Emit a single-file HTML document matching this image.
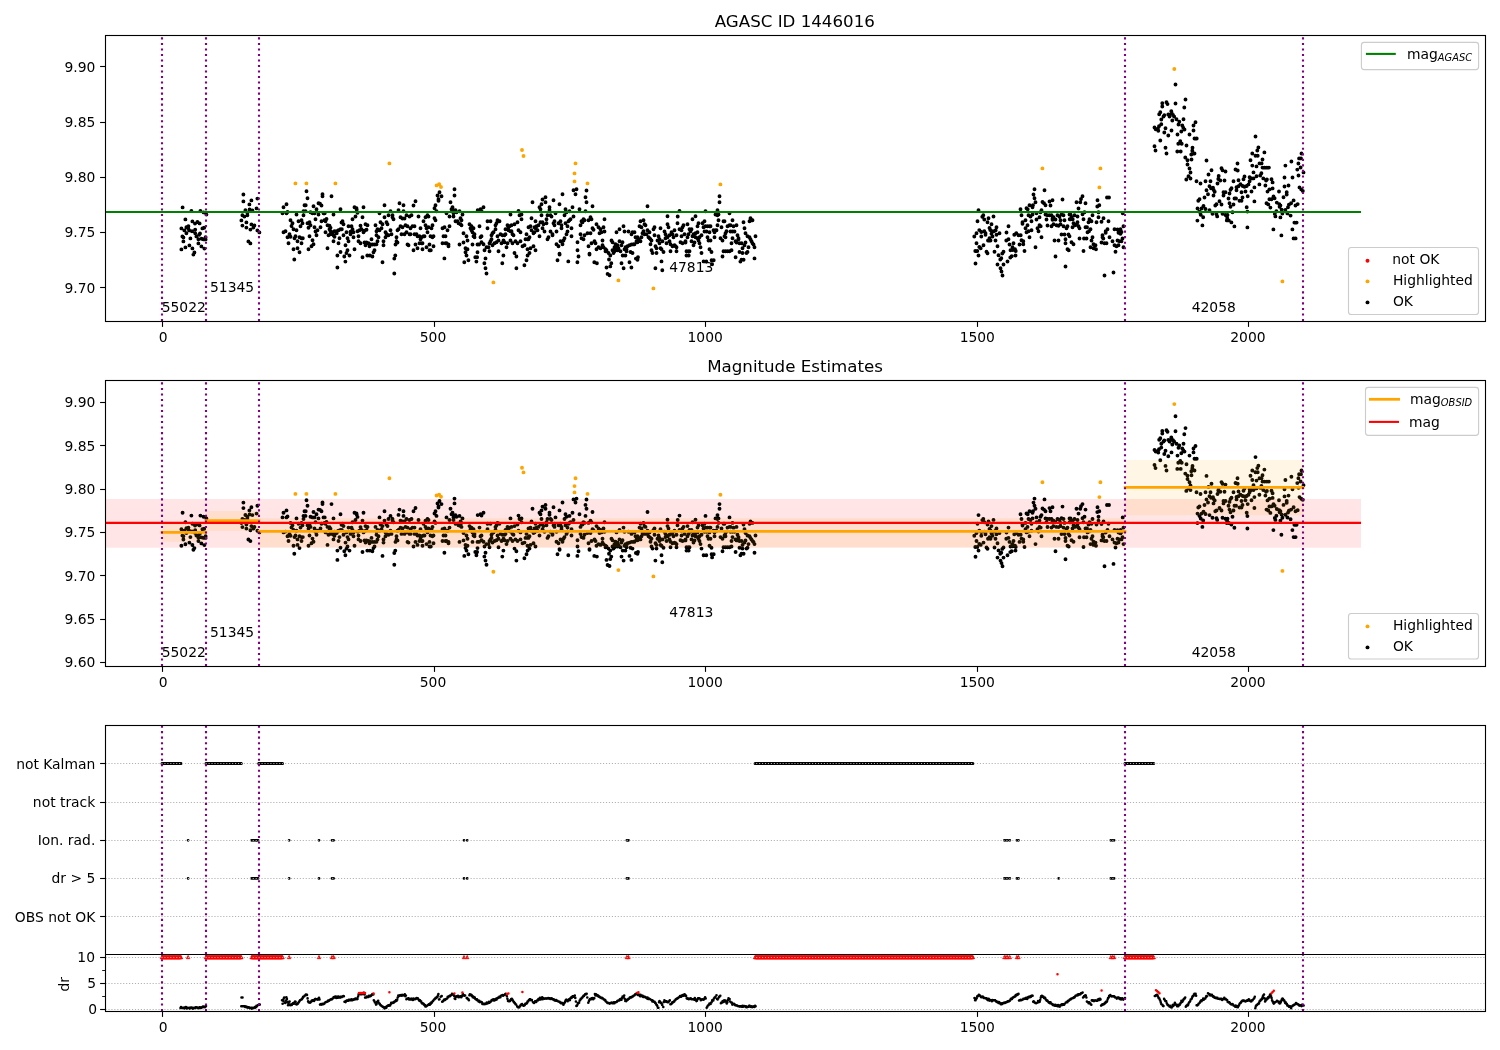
<!DOCTYPE html>
<html><head><meta charset="utf-8"><title>AGASC ID 1446016</title>
<style>html,body{margin:0;padding:0;background:#fff}svg{display:block}text{font-family:"DejaVu Sans", "Liberation Sans", sans-serif;fill:#000}</style></head><body>
<svg width="1500" height="1050" viewBox="0 0 1500 1050">
<rect width="1500" height="1050" fill="#fff"/>
<g>
<path d="M182.6 207.4h0M191.4 211h0M200.4 211h0M203.6 212.4h0M206.4 214.6h0M185.4 219.4h0M192.4 221.4h0M195 223.6h0M197.4 222h0M199.6 223.4h0M204.2 227.7h0M202.4 228.4h0M181.4 228.4h0M186.4 227.2h0M188.4 226.2h0M184.4 230.4h0M186.4 233.2h0M188.4 228.8h0M189.2 230.4h0M192 231.2h0M195.2 229.6h0M195.2 233.2h0M200 233.4h0M199.2 234.8h0M196.4 236.4h0M182.4 236.4h0M183.4 237.4h0M190.4 238.4h0M183.4 241.4h0M198.4 239.2h0M201.6 238.8h0M203.6 239.4h0M205.6 239.4h0M205.6 237.2h0M198.4 243.4h0M189.4 245.4h0M185.4 247.4h0M181.4 249.4h0M192.4 248.4h0M201.4 246.4h0M204.4 248.6h0M194.4 252.4h0M193.4 254.6h0M243.4 194.5h0M243.4 201.4h0M251.4 200.4h0M257.4 198.6h0M249.4 204.4h0M256.6 208.4h0M245.4 210.2h0M249.6 209.4h0M252.4 210.4h0M247.4 212.8h0M242.4 215.2h0M244.4 216.6h0M247.4 215.2h0M241.4 220.4h0M246.4 222.4h0M251.4 224.4h0M254.4 225.4h0M242.4 225.6h0M253.4 227.6h0M246.4 227.6h0M250.4 229.6h0M257.4 230.4h0M259.4 232.4h0M248.4 241.4h0M250.4 243.4h0M306.5 191.3h0M307.5 198.3h0M322.5 194.3h0M322.5 196.3h0M331.5 196.3h0M286.5 204.3h0M283.5 207.3h0M304.5 205.3h0M305.7 205.3h0M313.5 206.3h0M318.5 203.3h0M320 203.7h0M321.5 205.5h0M316.5 209.3h0M340.5 209.3h0M354.5 207.3h0M356.5 208.3h0M356.7 209.7h0M363.5 207.3h0M357.5 212.7h0M282.5 213.3h0M286.5 213.3h0M287.5 212h0M296.5 214.5h0M303.5 215.3h0M303.5 211.3h0M305.5 211.3h0M310.5 212.3h0M312.5 213.3h0M314.5 213.3h0M318.5 214.5h0M323.5 213.3h0M324.7 213.3h0M333.5 214.5h0M355.5 216.5h0M352.5 219.3h0M362.5 217.3h0M290.5 220.3h0M292.5 223.3h0M291.5 226h0M298.5 221.3h0M301.5 220.3h0M302.5 223.3h0M300.5 226.3h0M307.5 223.3h0M309.5 222.3h0M310.5 225.3h0M308.5 227.7h0M315.5 219.3h0M321.5 221.3h0M324.5 220.3h0M326.5 219h0M325.5 221.3h0M314.5 227.3h0M320.5 227.3h0M327.5 225.3h0M329.5 225.7h0M330.5 227.7h0M342.5 221.3h0M341.5 222.5h0M343.5 224.3h0M293.5 229.3h0M296.5 230.3h0M283.5 232.3h0M285.5 231.3h0M289.5 234.3h0M287.5 237.3h0M290.5 236.7h0M295.5 236.3h0M294.5 238.3h0M299.5 237.3h0M301.5 238.3h0M302.8 238.3h0M297.5 241.3h0M288.5 243.3h0M301.5 243.3h0M309.5 236.3h0M316.5 235.3h0M315.5 231.5h0M317.5 230.3h0M325.5 232.3h0M312.5 240.3h0M313.5 244.3h0M311.5 246.3h0M308.5 249.3h0M293.5 249.3h0M297.5 248.3h0M299.5 252.3h0M327.5 248.3h0M329.5 229.3h0M330.5 231.3h0M328.5 235.3h0M330.5 234.3h0M332.5 232.3h0M334.5 231.3h0M336.5 231.3h0M336.7 233.3h0M333.5 235.3h0M334.5 236.7h0M338.5 230.3h0M340.5 229.3h0M341.8 229.3h0M333.5 241.3h0M339.5 238.3h0M338.5 243.3h0M343.5 235.3h0M346.5 232.3h0M347.5 238.3h0M348.5 241.3h0M345.5 245.3h0M347.5 250.3h0M340.5 252h0M346.5 253h0M348.5 226.3h0M351.5 226.3h0M352.5 229.3h0M350.5 231.7h0M353.5 232.3h0M350.5 234.3h0M353.5 237.3h0M354.5 249.3h0M357.5 231.3h0M359.5 230.3h0M360.5 225.7h0M361.5 229.3h0M358.5 236.3h0M358.5 241.3h0M360.5 243.3h0M363.5 232.3h0M364.5 230.7h0M366.5 229.7h0M365.5 224.3h0M367.5 225.3h0M375.5 225.3h0M376.5 231.3h0M377.5 229.3h0M371.5 239.3h0M364.5 242.5h0M366.5 242.5h0M365.5 245.3h0M368.5 243.3h0M370.5 244.5h0M369.5 246.3h0M372.5 244.5h0M374.5 244.5h0M376.5 244.3h0M377.5 241.3h0M376.5 235.3h0M374.5 250.3h0M373.5 252.3h0M384.5 205.3h0M399.5 203.3h0M403.5 205.3h0M415.5 201.3h0M413.5 205.5h0M439.5 192.3h0M437.5 195.5h0M441.5 196.3h0M438.5 199.3h0M438.5 200.7h0M435.5 205.3h0M434.5 208.3h0M436.5 211.3h0M454.5 189.3h0M454.5 195.5h0M450.5 202.3h0M452.5 207.3h0M451.5 209.3h0M453.5 210.3h0M455.5 210.3h0M459.5 211.3h0M477.7 210.3h0M379.5 213.3h0M390.5 211.3h0M398.5 210.1h0M403.5 211.3h0M388.5 215.3h0M392.5 215.3h0M384.5 217.3h0M392.5 217.3h0M393.5 219.3h0M400.5 217.3h0M402.5 218.5h0M404.5 218.5h0M406.5 215.3h0M409.5 216.5h0M411.5 215.3h0M418.5 216.5h0M427.5 215.3h0M428.5 216.5h0M425.5 217.3h0M423.5 221.3h0M434.5 218.3h0M435.5 220.3h0M446.5 213.3h0M449.5 216.5h0M453.5 213.3h0M453.5 216.5h0M456.5 212.3h0M462.5 214.5h0M460.5 218.3h0M461.5 220.3h0M380.5 222.3h0M382.5 224.3h0M386.5 222.3h0M387.5 224.3h0M381.5 228.3h0M379.5 230.3h0M390.5 230.3h0M385.5 232.3h0M388.5 235.3h0M391.5 234.3h0M386.5 234h0M385.5 237.3h0M378.5 237.3h0M383.5 241.3h0M383.5 245.3h0M396.5 237.3h0M396.5 241.3h0M397.5 242.5h0M395.5 244.5h0M400.5 226.3h0M402.5 227.3h0M405.5 225.3h0M407.5 226.3h0M397.5 230.3h0M398.5 229.3h0M410.5 228.3h0M412.5 226.3h0M414.5 226.3h0M420.5 228.3h0M401.5 234.3h0M404.5 234.3h0M406.5 232.3h0M409.5 234.3h0M410.5 234.3h0M414.5 234.3h0M416.5 234.3h0M417.5 236.3h0M419.5 236.3h0M421.5 237.3h0M423.5 236.3h0M424.5 236.3h0M420.5 239.3h0M427.5 232.3h0M425.5 225.3h0M426.5 228.3h0M428.5 227.3h0M431.5 228.3h0M432.5 225.3h0M430.5 236.3h0M432.5 237.3h0M433.5 236.3h0M419.5 243.3h0M421.5 243.3h0M422.5 243.3h0M415.5 244.5h0M407.5 244.5h0M408.5 245.3h0M417.5 248.3h0M413.5 250.3h0M422.5 249.3h0M426.5 247.3h0M429.5 244.5h0M433.5 246.3h0M429.5 250.3h0M430.8 250.3h0M442.5 228.3h0M444.5 227.3h0M447.5 230.3h0M449.5 226.3h0M443.5 236.3h0M445.5 236.3h0M442.5 243.3h0M445.5 243.3h0M446.5 243.3h0M448.5 244.5h0M448.5 246.3h0M455.5 221.3h0M457.5 221.3h0M458.5 223.3h0M460.5 224.3h0M461.5 225.3h0M469.5 224.3h0M471.5 226.3h0M470.5 228.3h0M473.5 228.3h0M471.5 230.3h0M472.5 232.3h0M474.5 234.3h0M473.5 236.3h0M474.5 237.3h0M463.5 233.3h0M466.5 236.3h0M467.5 240.5h0M463.5 242.5h0M459.5 244.5h0M472.5 244.5h0M477.5 244.5h0M465.5 248.3h0M467.5 249.3h0M465.5 252.3h0M477.5 252.3h0M483.5 207.3h0M480.5 209.3h0M481.5 211h0M510.5 214.5h0M518.5 211h0M519.5 215.3h0M521.5 214.5h0M521.5 219.3h0M532.5 202.3h0M545.5 197.3h0M542.5 199.5h0M545.5 202.3h0M541.5 204.3h0M539.5 207.3h0M540.5 209.3h0M549.5 207.3h0M549.5 210h0M553.5 200.3h0M562.5 194.3h0M559.5 204.3h0M573.5 190.3h0M576.5 189.3h0M575.5 194.3h0M572.5 207.3h0M565.5 209.3h0M569.5 211.3h0M541.5 215.3h0M547.5 215.3h0M550.5 215.3h0M551.5 216.5h0M555.5 213.3h0M564.5 215.3h0M566.5 212.3h0M573.5 216.5h0M531.5 218.3h0M535.5 221.3h0M546.5 219.3h0M479.5 226.3h0M487.5 221.3h0M490.5 221.3h0M487.5 228.3h0M497.5 220.3h0M499.5 221.3h0M496.5 223.3h0M495.5 225.3h0M495.5 229.3h0M493.5 232.3h0M492.5 233.3h0M491.5 235.3h0M481.5 236.3h0M480.5 237.3h0M491.5 239.3h0M490.5 241.3h0M489.5 243.3h0M481.5 242.3h0M483.5 244.3h0M479 244.5h0M486.5 247.3h0M488.5 247.3h0M484.5 250.3h0M489.5 251.3h0M492.5 245.3h0M494.5 243.3h0M496.5 242.3h0M498.5 240.5h0M497.5 236.3h0M500.5 234.3h0M502.5 235.3h0M504.5 235.3h0M505.5 234.3h0M503.5 240.5h0M501.5 243.3h0M504.5 242.3h0M507.5 243.3h0M506.5 247.3h0M498.5 251.3h0M505.5 229.3h0M507.5 225.3h0M508.5 227.3h0M509.5 226.3h0M511.5 225.3h0M514.5 224.3h0M517.5 222.3h0M508.5 230.3h0M510.5 231.3h0M511.5 231.3h0M512.5 234.3h0M513.5 235.3h0M518.5 230.3h0M520.5 232.3h0M510.5 240.5h0M512.5 243.3h0M515.5 241.3h0M517.5 243.3h0M520.5 241.3h0M514.5 253h0M526.5 234.3h0M529.5 237.3h0M525.5 239.3h0M527.5 239.3h0M528.5 239.3h0M522.5 246.3h0M524.5 245.3h0M527.5 249.3h0M530.5 248.3h0M533.5 246.3h0M535.5 250.3h0M529.5 253h0M528.5 227.3h0M530.5 226.3h0M531.5 230.3h0M533.5 233.3h0M534.5 232.3h0M534.5 227.3h0M536.5 226.3h0M538.5 225.3h0M537.5 230.3h0M535.5 228.3h0M540.5 222.3h0M542.5 222.3h0M543.5 224.3h0M546.5 223.3h0M542.5 228.3h0M544.5 231.5h0M539.5 236.3h0M550.5 231.5h0M552.5 234.3h0M552.5 235.3h0M548.5 237.3h0M547.5 239.3h0M554.5 221.3h0M553.5 223.3h0M554.5 225.3h0M558.5 223.3h0M560.5 221.3h0M561.5 225.3h0M561.5 228.3h0M556.5 231.5h0M565.5 223.3h0M567.5 226.3h0M568.5 221.3h0M569.5 220.3h0M570.5 219.3h0M571.5 228.3h0M567.5 231.5h0M566.5 234.3h0M571.5 236.3h0M564.5 238.3h0M563.5 240.5h0M560.5 241.3h0M562.5 244.3h0M556.5 244.3h0M558.5 246.3h0M559.5 253.7h0M577.5 242.3h0M577.5 250.3h0M586.5 190.5h0M585.5 197.3h0M586.5 202.3h0M592.5 206.3h0M579.5 209.3h0M585.5 211.3h0M647.5 206.3h0M667.5 216.3h0M677.7 216.5h0M590.5 217.3h0M591.5 219.3h0M588.5 220.3h0M583.5 219.3h0M584.5 220.3h0M581.5 221.3h0M582.5 222.3h0M580.5 225.3h0M604.5 219.3h0M596.5 224.3h0M598.5 227.3h0M600.5 229.3h0M603.5 227.3h0M604.5 231.5h0M601.5 232.3h0M599.5 233.3h0M592.5 228.3h0M593.5 229.7h0M587.5 233.3h0M590.5 233.3h0M584.5 235.3h0M580.5 234.3h0M581.5 238.3h0M583.5 239.3h0M623.5 226.3h0M619.5 229.3h0M616.5 232.3h0M624.5 231.5h0M628.5 231.5h0M632.5 232.3h0M634.5 232.3h0M631.5 234.3h0M640.5 221.3h0M643.5 220.3h0M644.5 224.3h0M645.5 225.3h0M639.5 226.3h0M641.5 227.3h0M643.5 231.3h0M642.5 233.3h0M644.5 234.3h0M646.5 234.3h0M647.5 230.3h0M649.5 232.3h0M648.5 237.3h0M649.5 238.3h0M650.5 239.3h0M651.5 240.5h0M635.5 237.3h0M637.5 237.3h0M641.5 237.3h0M638.5 239.3h0M636.5 241.3h0M640.5 241.3h0M637.5 242.3h0M633.5 244.3h0M634.5 244.3h0M650.5 244.3h0M654.5 227.3h0M653.5 229.3h0M660.5 228.3h0M654.5 235.3h0M658.5 236.3h0M659.5 239.3h0M657.5 240.5h0M662.5 241.3h0M659.5 243.3h0M655.5 246.3h0M656.5 248.3h0M660.5 248.3h0M661.5 249.3h0M651.5 250.3h0M652.5 253h0M656.5 253h0M663.5 252h0M667.5 224.3h0M668.5 227.3h0M664.5 231.5h0M665.5 234.3h0M665.5 238.3h0M667.5 237.3h0M669.5 235.3h0M671.5 232.3h0M672.5 234.3h0M674.5 230.3h0M673.5 237.3h0M676.5 235.3h0M677.5 223.3h0M669.5 241.3h0M666.5 243.3h0M670.5 244.3h0M672.5 246.3h0M674.5 245.3h0M675.5 246.3h0M676.5 247.3h0M670.5 251.3h0M676.5 251.3h0M594.5 241.3h0M595.5 243.3h0M591.5 243.3h0M588.5 246.3h0M602.5 240.5h0M602.5 245.3h0M603.5 247.3h0M598.5 247.3h0M600.5 248.3h0M596.5 249.3h0M605.5 249.3h0M606.5 250.3h0M605.5 251.3h0M608.5 253h0M589.5 253.7h0M611.5 240.5h0M612.5 242.3h0M619.5 241.3h0M622.5 242.3h0M615.5 244.3h0M617.5 245.3h0M621.5 245.3h0M614.5 247.3h0M616.5 248.3h0M618.5 248.3h0M612.5 250.3h0M614.5 251.3h0M617.5 250.3h0M620.5 251.3h0M613.5 253h0M625.5 247.3h0M627.5 246.3h0M629.5 245.3h0M631.5 244.5h0M624.5 249.3h0M626.5 249.3h0M626.5 251.3h0M630.5 252h0M632.5 253h0M679.5 211h0M705.5 211.3h0M717.5 210.3h0M719.5 196.3h0M719.5 202.3h0M715.5 214.5h0M717.5 215.3h0M718.5 214.5h0M729.5 213.3h0M695.5 216.3h0M692.5 219.3h0M704.5 221.3h0M702.5 223.3h0M698.5 223.3h0M697.5 226.3h0M687.5 224.3h0M683.5 225.3h0M682.5 227.3h0M679.5 229.3h0M681.5 230.3h0M718.5 220.3h0M723.5 221.3h0M724.5 221.3h0M732.5 220.3h0M717.5 225.3h0M721.5 227.3h0M727.5 226.3h0M729.5 225.3h0M730.5 225.3h0M733.5 226.3h0M736.5 225.3h0M743.5 222.3h0M750.5 218.3h0M751.5 220.3h0M749.5 221.3h0M752.5 220.3h0M744.5 228.3h0M745.5 233.3h0M703.5 227.3h0M705.5 226.3h0M707.5 226.3h0M709.5 226.3h0M710.5 226.3h0M704.5 231.5h0M706.5 231.5h0M709.5 232.3h0M689.5 229.3h0M691.5 229.3h0M690.5 231.3h0M697.5 232.3h0M695.5 233.3h0M693.5 234.3h0M692.5 236.3h0M684.5 234.3h0M688.5 234.3h0M681.5 236.3h0M687.5 237.3h0M695.5 237.3h0M697.5 238.3h0M699.5 237.3h0M701.5 235.3h0M698.5 240.5h0M699.5 243.3h0M691.5 241.3h0M694.5 242.5h0M693.5 245.3h0M685.5 241.3h0M685.5 242.5h0M680.5 242.3h0M682.5 243.3h0M700.5 247.3h0M686.5 251.3h0M688.5 251.3h0M689.5 251.3h0M701.5 253h0M713.5 230.3h0M715.5 230.3h0M716.5 230.3h0M714.5 232.3h0M707.5 237.3h0M714.5 237.3h0M708.5 240.5h0M710.5 240.5h0M720.5 238.3h0M722.5 240.5h0M726.5 231.3h0M725.5 233.3h0M724.5 236.3h0M725.5 237.3h0M730.5 231.5h0M732.5 231.5h0M734.5 231.5h0M732.5 238.3h0M731.5 243.3h0M737.5 235.3h0M738.5 238.3h0M738.5 239.3h0M735.5 241.3h0M736.5 242.5h0M739.5 243.3h0M741.5 243.3h0M745.5 242.5h0M744.5 245.3h0M742.5 248.3h0M748.5 247.3h0M747.5 236.3h0M749.5 237.3h0M750.5 239.3h0M751.5 241.3h0M752.5 243.3h0M753.5 244.5h0M754.5 247.3h0M755.5 236.3h0M709.5 249.3h0M711.5 252h0M723.5 251.3h0M725.5 251.3h0M727.5 251.3h0M729.5 251.3h0M731.5 250.3h0M739.5 252h0M742.5 253h0M746.5 253h0M747.5 252h0M294.3 259.5h0M337.4 255.5h0M344.3 256.5h0M349.5 255.5h0M345.4 261.6h0M337.4 267.5h0M362.5 257.3h0M367.3 255.5h0M369.9 255.5h0M372.4 256.5h0M382.5 262.3h0M395.3 255.5h0M394.3 258.6h0M394.3 273.5h0M444.4 258.4h0M466.5 255.5h0M468.4 260.3h0M464.3 262.3h0M475.3 257.3h0M477.1 257.3h0M476.4 261.6h0M485.5 258.4h0M484.4 263.2h0M485.5 268.3h0M486.5 273.5h0M503.4 255.5h0M502.3 263.2h0M516.4 256.5h0M516.4 268.3h0M527.6 255.5h0M526.5 260.3h0M524.4 265.3h0M559.6 254.5h0M557.5 260.3h0M568.3 261.4h0M578.5 256.5h0M577.4 262.3h0M589.5 254.5h0M594.3 262.3h0M596.9 263.2h0M610.3 255.5h0M622.7 255.5h0M625.4 255.5h0M609 259.5h0M611.3 263.2h0M610.3 266.4h0M606.5 267.5h0M607.6 273.9h0M609.5 275.3h0M621.5 263.2h0M623.6 268.3h0M629.5 262.3h0M631.4 267.5h0M635.9 258.6h0M638 257.3h0M637.5 259.7h0M661.5 261.4h0M655.4 268.3h0M662.3 270.3h0M686.5 255.5h0M688.7 255.5h0M703.6 261.4h0M706.3 261.4h0M711.6 260.3h0M713.7 260.3h0M712.1 264.3h0M722.5 256.5h0M735.6 257.3h0M741.5 259.7h0M743.6 259.7h0M740.4 261.6h0M754.5 258.4h0M978.5 210.3h0M983.3 215.3h0M982.3 216.7h0M984.3 219.5h0M988.5 218.3h0M993.5 216.5h0M977.5 221.3h0M987.5 222.3h0M991.5 224.3h0M996.5 227.3h0M989.5 228h0M1008.5 226.3h0M979.3 230.1h0M981.3 232h0M984.3 231.3h0M985.5 233.3h0M976.5 233.3h0M974.3 236.5h0M981.3 236.5h0M985.5 234.7h0M990.3 230h0M992 231.3h0M994 231.3h0M995.7 230.3h0M991.5 233.7h0M992.5 236.5h0M996.5 234.7h0M999.5 233.3h0M1006.5 232.5h0M989.5 238.3h0M988 240.5h0M990.5 240.5h0M995.5 240.5h0M976.5 243.3h0M983.5 245.3h0M979.3 247h0M980.7 248.3h0M997.5 246.3h0M975.3 251h0M977.3 251h0M986.5 251.7h0M994.5 251.7h0M1003.5 251.7h0M1006.3 240.5h0M1008.5 239.3h0M1009.5 244.5h0M1013.5 243.3h0M1012.5 247.3h0M1010.5 250.3h0M1012.7 250h0M1015 249.3h0M1015.7 251h0M1014.3 234.7h0M1016.3 233.3h0M1018.5 235.3h0M1020.7 235.3h0M1021.5 240.3h0M1023.3 241.3h0M1023.3 244.3h0M1019.5 244.5h0M1024.5 251h0M1020.5 209.3h0M1021.5 215.3h0M1026.5 208.3h0M1027.7 209.3h0M1029.5 205.3h0M1033 205.3h0M1032.5 207.3h0M1035.5 202.3h0M1034.5 198.3h0M1033.5 194.5h0M1034.5 189.3h0M1044.5 190.3h0M1028.5 215.3h0M1030.5 216.5h0M1032.5 214.5h0M1036.5 213.3h0M1040.5 212.3h0M1041.5 210.3h0M1039.5 217.3h0M1036.5 219.5h0M1025.5 220.3h0M1022.5 222.3h0M1022.5 223.7h0M1031.5 221.3h0M1027.5 225.3h0M1025.5 228.3h0M1026.5 232.3h0M1028.5 231.3h0M1031.5 230.3h0M1029.5 237.3h0M1035.5 247.3h0M1041.5 237.3h0M1038.5 231.3h0M1037.5 228.3h0M1039.5 225.3h0M1040.7 226.3h0M1042.5 202h0M1044 203.3h0M1045.5 205.3h0M1049.5 201.5h0M1052.5 200.3h0M1050.5 205.5h0M1062.5 199.5h0M1045.5 214.5h0M1047.5 215.3h0M1049.5 215.3h0M1051.5 215.3h0M1046.5 219.5h0M1052.5 218.3h0M1053.5 217.3h0M1055.5 219.5h0M1052.5 219.7h0M1057.5 215.3h0M1059.5 216.7h0M1060.5 220.3h0M1061.5 214.3h0M1063.5 215.3h0M1064.5 220.3h0M1069.5 214.5h0M1069.7 219.3h0M1047.5 225.5h0M1051.5 226.3h0M1053.5 224.3h0M1056.5 225.3h0M1058.5 225.7h0M1060.5 224.3h0M1063.5 226.3h0M1066.5 228.3h0M1067.5 226.3h0M1061.5 234.5h0M1064.5 234.5h0M1068.5 234.5h0M1069.5 236.3h0M1054.5 240.5h0M1058.5 240.5h0M1065.5 239.3h0M1065.5 243.3h0M1067.5 249.3h0M1068.7 250.3h0M1082.5 196.3h0M1081 199h0M1080.3 202.3h0M1076.5 202.3h0M1085.5 203.3h0M1078.5 208.5h0M1097.5 200.3h0M1099.3 205.3h0M1097.3 206.5h0M1107 197.5h0M1109 197.5h0M1070.5 214.5h0M1074.5 215.3h0M1077.5 216.5h0M1082.5 214.3h0M1084.5 212.3h0M1092.5 215.3h0M1098.5 212.3h0M1098.5 217.3h0M1103.5 218.3h0M1101.5 221.7h0M1108.5 221.3h0M1096.5 222.3h0M1083.5 219.3h0M1089.5 219.3h0M1091.5 221.3h0M1088.5 222.3h0M1070.5 219.3h0M1072.7 219.3h0M1071.7 217.3h0M1077.5 222.3h0M1073.5 223.3h0M1075 225.3h0M1076.5 224.3h0M1072.5 227.3h0M1078.5 226.3h0M1079.5 228.3h0M1085.5 227.3h0M1087 227.3h0M1090.5 229.3h0M1089 231.3h0M1087.5 232.3h0M1107.5 229.3h0M1105.7 231.3h0M1105.7 232.7h0M1102.5 235.3h0M1114.5 229.3h0M1117.5 229.5h0M1120.5 229.3h0M1118.7 231.3h0M1121.5 232h0M1120.5 233.7h0M1118.5 232.7h0M1123.5 226.3h0M1122.7 213.3h0M1079.5 238.5h0M1084 238.5h0M1086.5 238.5h0M1092.5 237.3h0M1091.5 240.5h0M1102.5 237.3h0M1103.3 238.5h0M1109.5 237.3h0M1101.5 242.5h0M1104.5 243.3h0M1106.5 243.3h0M1112.5 241.3h0M1117.5 240.5h0M1119.5 241.3h0M1121.5 241.3h0M1122.5 238.5h0M1114.5 245.3h0M1116.5 246.3h0M1118.5 245.3h0M1123.5 247.3h0M1093.5 244.3h0M1095.5 245.3h0M1090.5 247.3h0M1093.5 248.3h0M1096 249.3h0M1071.5 242.3h0M1073.5 244.3h0M1083.5 251h0M1115.5 251.7h0M987.5 253.3h0M978.5 255.5h0M998.5 255.3h0M1002.3 253.5h0M1015.5 255.5h0M1011.7 256.3h0M1010.3 257.5h0M1001.3 258.3h0M1000.3 259.5h0M1007.5 261.5h0M975.5 263.5h0M997.5 264.5h0M1003.5 264.5h0M1000.5 268.3h0M1001.5 271.5h0M1002.5 275.5h0M1055.5 256.5h0M1065.5 266.5h0M1104.5 275.5h0M1113.5 272.5h0M1175.5 84.5h0M1185.5 99.5h0M1175.5 103.5h0M1162.3 103.2h0M1162.3 106.5h0M1166.5 102.3h0M1167.5 104.1h0M1184.3 107.5h0M1171.3 111.3h0M1160.3 112.3h0M1159.2 114.3h0M1164.3 115.3h0M1163.5 116.5h0M1168.3 114.5h0M1169.5 116.5h0M1171.7 113.3h0M1173 115h0M1174.1 116.5h0M1161.3 119.5h0M1172.3 120.5h0M1176.5 119.3h0M1183.5 119.3h0M1179.3 121.7h0M1178.5 124.5h0M1195.5 122.3h0M1193.5 125.5h0M1161.3 124.3h0M1159 126.3h0M1154.5 127.5h0M1155.7 129.3h0M1158 128.7h0M1158.3 130.7h0M1165.5 128.3h0M1171.5 130.5h0M1182.3 125.5h0M1183.3 127.7h0M1184.5 129.5h0M1181.3 131.5h0M1193.5 130.5h0M1164.3 132.5h0M1168.3 135.5h0M1177.5 134.5h0M1189.5 134.5h0M1194.5 138.5h0M1196.7 138.5h0M1160.3 140.5h0M1180.3 141.3h0M1178.3 143.7h0M1181.7 143.7h0M1186.5 145.5h0M1154.5 146.3h0M1165.5 147.7h0M1192.5 147.7h0M1155.5 150.5h0M1166.5 153.5h0M1177.3 151.5h0M1180.7 151.5h0M1192.3 150.7h0M1194.5 153.5h0M1191.3 154.5h0M1185.3 157.5h0M1187.5 160.3h0M1191.5 159.5h0M1206.5 160.5h0M1187.5 164.5h0M1189.5 168.5h0M1190.5 172.5h0M1188.5 176.3h0M1190.5 178.5h0M1186.3 179.5h0M1196.5 181.3h0M1200.5 183.5h0M1205.5 181.3h0M1210.5 181.3h0M1211.5 170.3h0M1208.5 174.5h0M1221.5 168.3h0M1222.5 170.3h0M1225.5 171.5h0M1237.5 163.5h0M1235.5 169.5h0M1237.7 170.5h0M1218.7 176h0M1218.3 179h0M1220.3 180.5h0M1224.5 180.5h0M1217.5 183.5h0M1233.5 181.3h0M1238.5 180.3h0M1243.5 179.3h0M1244.5 176.5h0M1209.5 186.3h0M1211 188.3h0M1213 187.7h0M1213.7 190h0M1214.7 191.7h0M1206.5 190.3h0M1208 194.3h0M1213.5 195.5h0M1204.5 197.5h0M1199.5 199.3h0M1198.3 200.7h0M1223.5 192.3h0M1225.5 192.3h0M1223.5 195.5h0M1229.5 193.5h0M1230.5 189.7h0M1231.5 188.3h0M1236.5 187.3h0M1236.5 190.3h0M1238.5 186.3h0M1240.5 184.3h0M1242.7 186h0M1244.5 186.7h0M1246.7 186h0M1241.5 192.3h0M1245.5 191.5h0M1228.5 198.5h0M1234.5 198.5h0M1236 198.5h0M1242.5 197.5h0M1239.5 200.7h0M1241.5 200.7h0M1219.5 201.3h0M1216.5 204.3h0M1215.3 205.5h0M1221.5 204.5h0M1229.5 203.3h0M1233.5 204.5h0M1230.5 206.7h0M1203.5 206h0M1197.5 208.5h0M1201.5 208.5h0M1205.5 209h0M1209.5 210.3h0M1199.5 211.7h0M1200.7 214.7h0M1212.5 213.7h0M1216.5 214.3h0M1222.5 213.7h0M1225.5 215h0M1227.5 215h0M1232.5 212.3h0M1246.7 207.3h0M1247.7 196.3h0M1203.2 217.2h0M1197.4 220.6h0M1202.4 225.4h0M1217.2 216.4h0M1227.2 218h0M1226.8 220.4h0M1228.8 220.4h0M1231.4 222.4h0M1234.4 226.4h0M1247.4 227.4h0M1247.4 211.6h0M1270.4 207.6h0M1279.6 206.8h0M1288 207.2h0M1281.6 209.6h0M1285.4 210h0M1276.4 211.2h0M1274.8 214h0M1275.4 216.4h0M1282.4 213.6h0M1280.4 217.4h0M1287.4 213.4h0M1290.6 215.6h0M1294.4 222.6h0M1296.6 222.6h0M1273.4 229.4h0M1292.4 229.4h0M1281.4 235.4h0M1293.6 238.4h0M1295.6 238.4h0M1255.5 136.5h0M1258.4 147.5h0M1257.3 150.5h0M1252.3 153.5h0M1255.5 155.7h0M1257.7 155.7h0M1264.4 152.4h0M1250.5 160.3h0M1262.5 159.5h0M1259.5 163.4h0M1261.6 163.4h0M1252.3 165.6h0M1256.5 166.4h0M1262.5 167.6h0M1264.7 167.6h0M1266.9 167.6h0M1268.9 167.6h0M1253.5 172.4h0M1261.4 173.3h0M1260.3 175.5h0M1256.5 176.3h0M1249.6 177.3h0M1251.5 178.4h0M1253.5 178.4h0M1249.6 181.3h0M1248.5 184.4h0M1263.3 178.4h0M1266.9 179.5h0M1266.1 180.6h0M1271.5 179.3h0M1272.6 182.4h0M1259.4 184.4h0M1254.4 187.4h0M1265.4 185.5h0M1272.6 188.4h0M1269.4 189.4h0M1267.5 191.6h0M1251.5 191.5h0M1254.4 201.4h0M1279 191.5h0M1284.5 186.5h0M1288.5 185.5h0M1286.7 192.3h0M1286.7 194.5h0M1283.5 197.3h0M1273.5 196.4h0M1274.6 198.3h0M1269.4 199.3h0M1271.5 199.3h0M1266.5 203.3h0M1268.3 204.4h0M1276.8 202.6h0M1279.3 204.1h0M1280.4 205.5h0M1293.6 200.4h0M1291.1 203.3h0M1288.9 204.8h0M1297.7 204.1h0M1295.5 205.5h0M1284.5 177.5h0M1292.5 177.5h0M1285.4 165.6h0M1291.4 161.5h0M1301.5 153.5h0M1299.1 158.4h0M1301 158.4h0M1298.4 163.5h0M1300.6 167.5h0M1297.3 169.6h0M1303.5 172.4h0M1298.5 175.5h0M1299.5 187.4h0M1301.3 189.4h0M1302.8 190.9h0" stroke="#000" stroke-width="3.9" stroke-linecap="round" fill="none" />
<path d="M295.4 183.4h0M306.4 183.4h0M335.4 183.4h0M389.4 163.4h0M436.6 185.4h0M439.2 184.2h0M441 187h0M493.4 282.4h0M522 150h0M523.5 156h0M575.5 163.4h0M574.5 173.4h0M574.5 181.4h0M587.5 183.4h0M618.4 280.4h0M653.4 288.4h0M720.4 184.4h0M1042.4 168.4h0M1100.4 168.4h0M1099.4 187.4h0M1174.3 69h0M1282.4 281.4h0" stroke="#ffa500" stroke-width="3.9" stroke-linecap="round" fill="none" />
<line x1="105.5" x2="1361" y1="212" y2="212" stroke="#008000" stroke-width="2.083" />
<line x1="162" x2="162" y1="321" y2="35.5" stroke="#800080" stroke-width="2.083" stroke-dasharray="2.083 3.4375"/>
<line x1="206" x2="206" y1="321" y2="35.5" stroke="#800080" stroke-width="2.083" stroke-dasharray="2.083 3.4375"/>
<line x1="259" x2="259" y1="321" y2="35.5" stroke="#800080" stroke-width="2.083" stroke-dasharray="2.083 3.4375"/>
<line x1="1125" x2="1125" y1="321" y2="35.5" stroke="#800080" stroke-width="2.083" stroke-dasharray="2.083 3.4375"/>
<line x1="1303" x2="1303" y1="321" y2="35.5" stroke="#800080" stroke-width="2.083" stroke-dasharray="2.083 3.4375"/>
<text x="183.8" y="312.3" font-size="13.889" text-anchor="middle" >55022</text>
<text x="232.1" y="292.3" font-size="13.889" text-anchor="middle" >51345</text>
<text x="691.3" y="272.3" font-size="13.889" text-anchor="middle" >47813</text>
<text x="1213.8" y="312.3" font-size="13.889" text-anchor="middle" >42058</text>
<rect x="105.5" y="35.5" width="1380" height="286" fill="none" stroke="#000" stroke-width="1.111"/>
<line x1="162.5" x2="162.5" y1="321.5" y2="326.9" stroke="#000" stroke-width="1.111"/>
<text x="163.2" y="341.9" font-size="13.889" text-anchor="middle" >0</text>
<line x1="434.5" x2="434.5" y1="321.5" y2="326.9" stroke="#000" stroke-width="1.111"/>
<text x="433" y="341.9" font-size="13.889" text-anchor="middle" >500</text>
<line x1="705.5" x2="705.5" y1="321.5" y2="326.9" stroke="#000" stroke-width="1.111"/>
<text x="705.2" y="341.9" font-size="13.889" text-anchor="middle" >1000</text>
<line x1="977.5" x2="977.5" y1="321.5" y2="326.9" stroke="#000" stroke-width="1.111"/>
<text x="977.3" y="341.9" font-size="13.889" text-anchor="middle" >1500</text>
<line x1="1248.5" x2="1248.5" y1="321.5" y2="326.9" stroke="#000" stroke-width="1.111"/>
<text x="1247.9" y="341.9" font-size="13.889" text-anchor="middle" >2000</text>
<line x1="100.1" x2="105.5" y1="66.5" y2="66.5" stroke="#000" stroke-width="1.111"/>
<text x="95.3" y="71.8" font-size="13.889" text-anchor="end" >9.90</text>
<line x1="100.1" x2="105.5" y1="122.5" y2="122.5" stroke="#000" stroke-width="1.111"/>
<text x="95.3" y="127" font-size="13.889" text-anchor="end" >9.85</text>
<line x1="100.1" x2="105.5" y1="177.5" y2="177.5" stroke="#000" stroke-width="1.111"/>
<text x="95.3" y="182.2" font-size="13.889" text-anchor="end" >9.80</text>
<line x1="100.1" x2="105.5" y1="232.5" y2="232.5" stroke="#000" stroke-width="1.111"/>
<text x="95.3" y="237.4" font-size="13.889" text-anchor="end" >9.75</text>
<line x1="100.1" x2="105.5" y1="287.5" y2="287.5" stroke="#000" stroke-width="1.111"/>
<text x="95.3" y="292.6" font-size="13.889" text-anchor="end" >9.70</text>
<text x="794.8" y="26.5" font-size="16.667" text-anchor="middle" >AGASC ID 1446016</text>
<rect x="1361.4" y="42.4" width="117.2" height="27.2" rx="2.8" fill="#fff" fill-opacity="0.8" stroke="#ccc" stroke-width="1.111"/>
<line x1="1365.9" x2="1395.8" y1="53.9" y2="53.9" stroke="#008000" stroke-width="2.083" />
<text x="1407" y="58.8" font-size="13.889">mag<tspan font-size="9.9" font-style="italic" dy="2.6">AGASC</tspan></text>
<rect x="1348.5" y="247.5" width="130" height="67" rx="2.8" fill="#fff" fill-opacity="0.8" stroke="#ccc" stroke-width="1.111"/>
<path d="M1367.5 260.7h0" stroke="#ff0000" stroke-width="3.9" stroke-linecap="round" fill="none" />
<path d="M1367.5 281.4h0" stroke="#ffa500" stroke-width="3.9" stroke-linecap="round" fill="none" />
<path d="M1367.5 302.4h0" stroke="#000" stroke-width="3.9" stroke-linecap="round" fill="none" />
<text x="1392.3" y="264" font-size="13.889" text-anchor="start" >not OK</text>
<text x="1392.9" y="285" font-size="13.889" text-anchor="start" >Highlighted</text>
<text x="1392.9" y="306" font-size="13.889" text-anchor="start" >OK</text>
</g>
<g>
<rect x="105.5" y="499" width="1255.5" height="48.7" fill="#ff0000" fill-opacity="0.1"/>
<path d="M182.6 512.8h0M191.4 515.6h0M200.4 515.6h0M203.6 516.7h0M206.4 518.4h0M185.4 522.2h0M192.4 523.7h0M195 525.5h0M197.4 524.2h0M199.6 525.4h0M204.2 528.7h0M202.4 529.3h0M181.4 529.3h0M186.4 528.3h0M188.4 527.6h0M184.4 530.8h0M186.4 533h0M188.4 529.6h0M189.2 530.8h0M192 531.5h0M195.2 530.2h0M195.2 533h0M200 533.2h0M199.2 534.3h0M196.4 535.6h0M182.4 535.6h0M183.4 536.3h0M190.4 537.1h0M183.4 539.5h0M198.4 537.7h0M201.6 537.4h0M203.6 537.9h0M205.6 537.9h0M205.6 536.2h0M198.4 541.1h0M189.4 542.6h0M185.4 544.2h0M181.4 545.8h0M192.4 545h0M201.4 543.4h0M204.4 545.1h0M194.4 548.1h0M193.4 549.8h0M243.4 502.6h0M243.4 508.1h0M251.4 507.3h0M257.4 505.8h0M249.4 510.4h0M256.6 513.6h0M245.4 515h0M249.6 514.4h0M252.4 515.1h0M247.4 517h0M242.4 518.9h0M244.4 520h0M247.4 518.9h0M241.4 523h0M246.4 524.6h0M251.4 526.1h0M254.4 526.9h0M242.4 527.1h0M253.4 528.6h0M246.4 528.6h0M250.4 530.2h0M257.4 530.8h0M259.4 532.4h0M248.4 539.5h0M250.4 541.1h0M306.5 500.2h0M307.5 505.7h0M322.5 502.5h0M322.5 504.1h0M331.5 504.1h0M286.5 510.4h0M283.5 512.7h0M304.5 511.2h0M305.7 511.2h0M313.5 512h0M318.5 509.6h0M320 509.9h0M321.5 511.3h0M316.5 514.3h0M340.5 514.3h0M354.5 512.7h0M356.5 513.5h0M356.7 514.6h0M363.5 512.7h0M357.5 516.9h0M282.5 517.4h0M286.5 517.4h0M287.5 516.4h0M296.5 518.4h0M303.5 519h0M303.5 515.9h0M305.5 515.9h0M310.5 516.7h0M312.5 517.4h0M314.5 517.4h0M318.5 518.4h0M323.5 517.4h0M324.7 517.4h0M333.5 518.4h0M355.5 520h0M352.5 522.2h0M362.5 520.6h0M290.5 522.9h0M292.5 525.3h0M291.5 527.4h0M298.5 523.7h0M301.5 522.9h0M302.5 525.3h0M300.5 527.6h0M307.5 525.3h0M309.5 524.5h0M310.5 526.9h0M308.5 528.7h0M315.5 522.2h0M321.5 523.7h0M324.5 522.9h0M326.5 521.9h0M325.5 523.7h0M314.5 528.4h0M320.5 528.4h0M327.5 526.9h0M329.5 527.1h0M330.5 528.7h0M342.5 523.7h0M341.5 524.7h0M343.5 526.1h0M293.5 530h0M296.5 530.8h0M283.5 532.4h0M285.5 531.6h0M289.5 533.9h0M287.5 536.3h0M290.5 535.8h0M295.5 535.5h0M294.5 537.1h0M299.5 536.3h0M301.5 537.1h0M302.8 537.1h0M297.5 539.4h0M288.5 541h0M301.5 541h0M309.5 535.5h0M316.5 534.7h0M315.5 531.7h0M317.5 530.8h0M325.5 532.4h0M312.5 538.6h0M313.5 541.8h0M311.5 543.3h0M308.5 545.7h0M293.5 545.7h0M297.5 544.9h0M299.5 548.1h0M327.5 544.9h0M329.5 530h0M330.5 531.6h0M328.5 534.7h0M330.5 533.9h0M332.5 532.4h0M334.5 531.6h0M336.5 531.6h0M336.7 533.1h0M333.5 534.7h0M334.5 535.8h0M338.5 530.8h0M340.5 530h0M341.8 530h0M333.5 539.4h0M339.5 537.1h0M338.5 541h0M343.5 534.7h0M346.5 532.4h0M347.5 537.1h0M348.5 539.4h0M345.5 542.6h0M347.5 546.5h0M340.5 547.8h0M346.5 548.6h0M348.5 527.6h0M351.5 527.6h0M352.5 530h0M350.5 531.8h0M353.5 532.4h0M350.5 533.9h0M353.5 536.3h0M354.5 545.7h0M357.5 531.6h0M359.5 530.8h0M360.5 527.1h0M361.5 530h0M358.5 535.5h0M358.5 539.4h0M360.5 541h0M363.5 532.4h0M364.5 531.1h0M366.5 530.3h0M365.5 526.1h0M367.5 526.9h0M375.5 526.9h0M376.5 531.6h0M377.5 530h0M371.5 537.9h0M364.5 540.4h0M366.5 540.4h0M365.5 542.6h0M368.5 541h0M370.5 541.9h0M369.5 543.3h0M372.5 541.9h0M374.5 541.9h0M376.5 541.8h0M377.5 539.4h0M376.5 534.7h0M374.5 546.5h0M373.5 548.1h0M384.5 511.2h0M399.5 509.6h0M403.5 511.2h0M415.5 508h0M413.5 511.3h0M439.5 501h0M437.5 503.4h0M441.5 504.1h0M438.5 506.5h0M438.5 507.5h0M435.5 511.2h0M434.5 513.5h0M436.5 515.9h0M454.5 498.6h0M454.5 503.4h0M450.5 508.8h0M452.5 512.7h0M451.5 514.3h0M453.5 515.1h0M455.5 515.1h0M459.5 515.9h0M477.7 515.1h0M379.5 517.4h0M390.5 515.9h0M398.5 514.9h0M403.5 515.9h0M388.5 519h0M392.5 519h0M384.5 520.6h0M392.5 520.6h0M393.5 522.2h0M400.5 520.6h0M402.5 521.5h0M404.5 521.5h0M406.5 519h0M409.5 520h0M411.5 519h0M418.5 520h0M427.5 519h0M428.5 520h0M425.5 520.6h0M423.5 523.7h0M434.5 521.4h0M435.5 522.9h0M446.5 517.4h0M449.5 520h0M453.5 517.4h0M453.5 520h0M456.5 516.7h0M462.5 518.4h0M460.5 521.4h0M461.5 522.9h0M380.5 524.5h0M382.5 526.1h0M386.5 524.5h0M387.5 526.1h0M381.5 529.2h0M379.5 530.8h0M390.5 530.8h0M385.5 532.4h0M388.5 534.7h0M391.5 533.9h0M386.5 533.7h0M385.5 536.3h0M378.5 536.3h0M383.5 539.4h0M383.5 542.6h0M396.5 536.3h0M396.5 539.4h0M397.5 540.4h0M395.5 541.9h0M400.5 527.6h0M402.5 528.4h0M405.5 526.9h0M407.5 527.6h0M397.5 530.8h0M398.5 530h0M410.5 529.2h0M412.5 527.6h0M414.5 527.6h0M420.5 529.2h0M401.5 533.9h0M404.5 533.9h0M406.5 532.4h0M409.5 533.9h0M410.5 533.9h0M414.5 533.9h0M416.5 533.9h0M417.5 535.5h0M419.5 535.5h0M421.5 536.3h0M423.5 535.5h0M424.5 535.5h0M420.5 537.9h0M427.5 532.4h0M425.5 526.9h0M426.5 529.2h0M428.5 528.4h0M431.5 529.2h0M432.5 526.9h0M430.5 535.5h0M432.5 536.3h0M433.5 535.5h0M419.5 541h0M421.5 541h0M422.5 541h0M415.5 541.9h0M407.5 541.9h0M408.5 542.6h0M417.5 544.9h0M413.5 546.5h0M422.5 545.7h0M426.5 544.1h0M429.5 541.9h0M433.5 543.3h0M429.5 546.5h0M430.8 546.5h0M442.5 529.2h0M444.5 528.4h0M447.5 530.8h0M449.5 527.6h0M443.5 535.5h0M445.5 535.5h0M442.5 541h0M445.5 541h0M446.5 541h0M448.5 541.9h0M448.5 543.3h0M455.5 523.7h0M457.5 523.7h0M458.5 525.3h0M460.5 526.1h0M461.5 526.9h0M469.5 526.1h0M471.5 527.6h0M470.5 529.2h0M473.5 529.2h0M471.5 530.8h0M472.5 532.4h0M474.5 533.9h0M473.5 535.5h0M474.5 536.3h0M463.5 533.1h0M466.5 535.5h0M467.5 538.8h0M463.5 540.4h0M459.5 541.9h0M472.5 541.9h0M477.5 541.9h0M465.5 544.9h0M467.5 545.7h0M465.5 548.1h0M477.5 548.1h0M483.5 512.7h0M480.5 514.3h0M481.5 515.6h0M510.5 518.4h0M518.5 515.6h0M519.5 519h0M521.5 518.4h0M521.5 522.2h0M532.5 508.8h0M545.5 504.9h0M542.5 506.6h0M545.5 508.8h0M541.5 510.4h0M539.5 512.7h0M540.5 514.3h0M549.5 512.7h0M549.5 514.8h0M553.5 507.2h0M562.5 502.5h0M559.5 510.4h0M573.5 499.4h0M576.5 498.6h0M575.5 502.5h0M572.5 512.7h0M565.5 514.3h0M569.5 515.9h0M541.5 519h0M547.5 519h0M550.5 519h0M551.5 520h0M555.5 517.4h0M564.5 519h0M566.5 516.7h0M573.5 520h0M531.5 521.4h0M535.5 523.7h0M546.5 522.2h0M479.5 527.6h0M487.5 523.7h0M490.5 523.7h0M487.5 529.2h0M497.5 522.9h0M499.5 523.7h0M496.5 525.3h0M495.5 526.9h0M495.5 530h0M493.5 532.4h0M492.5 533.1h0M491.5 534.7h0M481.5 535.5h0M480.5 536.3h0M491.5 537.9h0M490.5 539.4h0M489.5 541h0M481.5 540.2h0M483.5 541.8h0M479 541.9h0M486.5 544.1h0M488.5 544.1h0M484.5 546.5h0M489.5 547.3h0M492.5 542.6h0M494.5 541h0M496.5 540.2h0M498.5 538.8h0M497.5 535.5h0M500.5 533.9h0M502.5 534.7h0M504.5 534.7h0M505.5 533.9h0M503.5 538.8h0M501.5 541h0M504.5 540.2h0M507.5 541h0M506.5 544.1h0M498.5 547.3h0M505.5 530h0M507.5 526.9h0M508.5 528.4h0M509.5 527.6h0M511.5 526.9h0M514.5 526.1h0M517.5 524.5h0M508.5 530.8h0M510.5 531.6h0M511.5 531.6h0M512.5 533.9h0M513.5 534.7h0M518.5 530.8h0M520.5 532.4h0M510.5 538.8h0M512.5 541h0M515.5 539.4h0M517.5 541h0M520.5 539.4h0M514.5 548.6h0M526.5 533.9h0M529.5 536.3h0M525.5 537.9h0M527.5 537.9h0M528.5 537.9h0M522.5 543.3h0M524.5 542.6h0M527.5 545.7h0M530.5 544.9h0M533.5 543.3h0M535.5 546.5h0M529.5 548.6h0M528.5 528.4h0M530.5 527.6h0M531.5 530.8h0M533.5 533.1h0M534.5 532.4h0M534.5 528.4h0M536.5 527.6h0M538.5 526.9h0M537.5 530.8h0M535.5 529.2h0M540.5 524.5h0M542.5 524.5h0M543.5 526.1h0M546.5 525.3h0M542.5 529.2h0M544.5 531.7h0M539.5 535.5h0M550.5 531.7h0M552.5 533.9h0M552.5 534.7h0M548.5 536.3h0M547.5 537.9h0M554.5 523.7h0M553.5 525.3h0M554.5 526.9h0M558.5 525.3h0M560.5 523.7h0M561.5 526.9h0M561.5 529.2h0M556.5 531.7h0M565.5 525.3h0M567.5 527.6h0M568.5 523.7h0M569.5 522.9h0M570.5 522.2h0M571.5 529.2h0M567.5 531.7h0M566.5 533.9h0M571.5 535.5h0M564.5 537.1h0M563.5 538.8h0M560.5 539.4h0M562.5 541.8h0M556.5 541.8h0M558.5 543.3h0M559.5 549.1h0M577.5 540.2h0M577.5 546.5h0M586.5 499.5h0M585.5 504.9h0M586.5 508.8h0M592.5 512h0M579.5 514.3h0M585.5 515.9h0M647.5 512h0M667.5 519.8h0M677.7 520h0M590.5 520.6h0M591.5 522.2h0M588.5 522.9h0M583.5 522.2h0M584.5 522.9h0M581.5 523.7h0M582.5 524.5h0M580.5 526.9h0M604.5 522.2h0M596.5 526.1h0M598.5 528.4h0M600.5 530h0M603.5 528.4h0M604.5 531.7h0M601.5 532.4h0M599.5 533.1h0M592.5 529.2h0M593.5 530.3h0M587.5 533.1h0M590.5 533.1h0M584.5 534.7h0M580.5 533.9h0M581.5 537.1h0M583.5 537.9h0M623.5 527.6h0M619.5 530h0M616.5 532.4h0M624.5 531.7h0M628.5 531.7h0M632.5 532.4h0M634.5 532.4h0M631.5 533.9h0M640.5 523.7h0M643.5 522.9h0M644.5 526.1h0M645.5 526.9h0M639.5 527.6h0M641.5 528.4h0M643.5 531.6h0M642.5 533.1h0M644.5 533.9h0M646.5 533.9h0M647.5 530.8h0M649.5 532.4h0M648.5 536.3h0M649.5 537.1h0M650.5 537.9h0M651.5 538.8h0M635.5 536.3h0M637.5 536.3h0M641.5 536.3h0M638.5 537.9h0M636.5 539.4h0M640.5 539.4h0M637.5 540.2h0M633.5 541.8h0M634.5 541.8h0M650.5 541.8h0M654.5 528.4h0M653.5 530h0M660.5 529.2h0M654.5 534.7h0M658.5 535.5h0M659.5 537.9h0M657.5 538.8h0M662.5 539.4h0M659.5 541h0M655.5 543.3h0M656.5 544.9h0M660.5 544.9h0M661.5 545.7h0M651.5 546.5h0M652.5 548.6h0M656.5 548.6h0M663.5 547.8h0M667.5 526.1h0M668.5 528.4h0M664.5 531.7h0M665.5 533.9h0M665.5 537.1h0M667.5 536.3h0M669.5 534.7h0M671.5 532.4h0M672.5 533.9h0M674.5 530.8h0M673.5 536.3h0M676.5 534.7h0M677.5 525.3h0M669.5 539.4h0M666.5 541h0M670.5 541.8h0M672.5 543.3h0M674.5 542.6h0M675.5 543.3h0M676.5 544.1h0M670.5 547.3h0M676.5 547.3h0M594.5 539.4h0M595.5 541h0M591.5 541h0M588.5 543.3h0M602.5 538.8h0M602.5 542.6h0M603.5 544.1h0M598.5 544.1h0M600.5 544.9h0M596.5 545.7h0M605.5 545.7h0M606.5 546.5h0M605.5 547.3h0M608.5 548.6h0M589.5 549.1h0M611.5 538.8h0M612.5 540.2h0M619.5 539.4h0M622.5 540.2h0M615.5 541.8h0M617.5 542.6h0M621.5 542.6h0M614.5 544.1h0M616.5 544.9h0M618.5 544.9h0M612.5 546.5h0M614.5 547.3h0M617.5 546.5h0M620.5 547.3h0M613.5 548.6h0M625.5 544.1h0M627.5 543.3h0M629.5 542.6h0M631.5 541.9h0M624.5 545.7h0M626.5 545.7h0M626.5 547.3h0M630.5 547.8h0M632.5 548.6h0M679.5 515.6h0M705.5 515.9h0M717.5 515.1h0M719.5 504.1h0M719.5 508.8h0M715.5 518.4h0M717.5 519h0M718.5 518.4h0M729.5 517.4h0M695.5 519.8h0M692.5 522.2h0M704.5 523.7h0M702.5 525.3h0M698.5 525.3h0M697.5 527.6h0M687.5 526.1h0M683.5 526.9h0M682.5 528.4h0M679.5 530h0M681.5 530.8h0M718.5 522.9h0M723.5 523.7h0M724.5 523.7h0M732.5 522.9h0M717.5 526.9h0M721.5 528.4h0M727.5 527.6h0M729.5 526.9h0M730.5 526.9h0M733.5 527.6h0M736.5 526.9h0M743.5 524.5h0M750.5 521.4h0M751.5 522.9h0M749.5 523.7h0M752.5 522.9h0M744.5 529.2h0M745.5 533.1h0M703.5 528.4h0M705.5 527.6h0M707.5 527.6h0M709.5 527.6h0M710.5 527.6h0M704.5 531.7h0M706.5 531.7h0M709.5 532.4h0M689.5 530h0M691.5 530h0M690.5 531.6h0M697.5 532.4h0M695.5 533.1h0M693.5 533.9h0M692.5 535.5h0M684.5 533.9h0M688.5 533.9h0M681.5 535.5h0M687.5 536.3h0M695.5 536.3h0M697.5 537.1h0M699.5 536.3h0M701.5 534.7h0M698.5 538.8h0M699.5 541h0M691.5 539.4h0M694.5 540.4h0M693.5 542.6h0M685.5 539.4h0M685.5 540.4h0M680.5 540.2h0M682.5 541h0M700.5 544.1h0M686.5 547.3h0M688.5 547.3h0M689.5 547.3h0M701.5 548.6h0M713.5 530.8h0M715.5 530.8h0M716.5 530.8h0M714.5 532.4h0M707.5 536.3h0M714.5 536.3h0M708.5 538.8h0M710.5 538.8h0M720.5 537.1h0M722.5 538.8h0M726.5 531.6h0M725.5 533.1h0M724.5 535.5h0M725.5 536.3h0M730.5 531.7h0M732.5 531.7h0M734.5 531.7h0M732.5 537.1h0M731.5 541h0M737.5 534.7h0M738.5 537.1h0M738.5 537.9h0M735.5 539.4h0M736.5 540.4h0M739.5 541h0M741.5 541h0M745.5 540.4h0M744.5 542.6h0M742.5 544.9h0M748.5 544.1h0M747.5 535.5h0M749.5 536.3h0M750.5 537.9h0M751.5 539.4h0M752.5 541h0M753.5 541.9h0M754.5 544.1h0M755.5 535.5h0M709.5 545.7h0M711.5 547.8h0M723.5 547.3h0M725.5 547.3h0M727.5 547.3h0M729.5 547.3h0M731.5 546.5h0M739.5 547.8h0M742.5 548.6h0M746.5 548.6h0M747.5 547.8h0M294.3 553.7h0M337.4 550.6h0M344.3 551.3h0M349.5 550.6h0M345.4 555.3h0M337.4 559.9h0M362.5 552h0M367.3 550.6h0M369.9 550.6h0M372.4 551.3h0M382.5 555.9h0M395.3 550.6h0M394.3 553h0M394.3 564.7h0M444.4 552.8h0M466.5 550.6h0M468.4 554.3h0M464.3 555.9h0M475.3 552h0M477.1 552h0M476.4 555.3h0M485.5 552.8h0M484.4 556.6h0M485.5 560.6h0M486.5 564.7h0M503.4 550.6h0M502.3 556.6h0M516.4 551.3h0M516.4 560.6h0M527.6 550.6h0M526.5 554.3h0M524.4 558.3h0M559.6 549.7h0M557.5 554.3h0M568.3 555.2h0M578.5 551.3h0M577.4 555.9h0M589.5 549.7h0M594.3 555.9h0M596.9 556.6h0M610.3 550.6h0M622.7 550.6h0M625.4 550.6h0M609 553.7h0M611.3 556.6h0M610.3 559.1h0M606.5 559.9h0M607.6 565h0M609.5 566h0M621.5 556.6h0M623.6 560.6h0M629.5 555.9h0M631.4 559.9h0M635.9 553h0M638 552h0M637.5 553.8h0M661.5 555.2h0M655.4 560.6h0M662.3 562.2h0M686.5 550.6h0M688.7 550.6h0M703.6 555.2h0M706.3 555.2h0M711.6 554.3h0M713.7 554.3h0M712.1 557.4h0M722.5 551.3h0M735.6 552h0M741.5 553.8h0M743.6 553.8h0M740.4 555.3h0M754.5 552.8h0M978.5 515.1h0M983.3 519h0M982.3 520.1h0M984.3 522.3h0M988.5 521.4h0M993.5 519.9h0M977.5 523.7h0M987.5 524.5h0M991.5 526.1h0M996.5 528.4h0M989.5 529h0M1008.5 527.6h0M979.3 530.6h0M981.3 532.1h0M984.3 531.6h0M985.5 533.1h0M976.5 533.1h0M974.3 535.7h0M981.3 535.7h0M985.5 534.2h0M990.3 530.5h0M992 531.6h0M994 531.6h0M995.7 530.8h0M991.5 533.4h0M992.5 535.7h0M996.5 534.2h0M999.5 533.1h0M1006.5 532.5h0M989.5 537.1h0M988 538.8h0M990.5 538.8h0M995.5 538.8h0M976.5 541h0M983.5 542.6h0M979.3 543.9h0M980.7 544.9h0M997.5 543.3h0M975.3 547h0M977.3 547h0M986.5 547.5h0M994.5 547.5h0M1003.5 547.5h0M1006.3 538.8h0M1008.5 537.9h0M1009.5 541.9h0M1013.5 541h0M1012.5 544.1h0M1010.5 546.5h0M1012.7 546.2h0M1015 545.7h0M1015.7 547h0M1014.3 534.2h0M1016.3 533.1h0M1018.5 534.7h0M1020.7 534.7h0M1021.5 538.6h0M1023.3 539.4h0M1023.3 541.8h0M1019.5 541.9h0M1024.5 547h0M1020.5 514.3h0M1021.5 519h0M1026.5 513.5h0M1027.7 514.3h0M1029.5 511.2h0M1033 511.2h0M1032.5 512.7h0M1035.5 508.8h0M1034.5 505.7h0M1033.5 502.6h0M1034.5 498.6h0M1044.5 499.4h0M1028.5 519h0M1030.5 520h0M1032.5 518.4h0M1036.5 517.4h0M1040.5 516.7h0M1041.5 515.1h0M1039.5 520.6h0M1036.5 522.3h0M1025.5 522.9h0M1022.5 524.5h0M1022.5 525.6h0M1031.5 523.7h0M1027.5 526.9h0M1025.5 529.2h0M1026.5 532.4h0M1028.5 531.6h0M1031.5 530.8h0M1029.5 536.3h0M1035.5 544.1h0M1041.5 536.3h0M1038.5 531.6h0M1037.5 529.2h0M1039.5 526.9h0M1040.7 527.6h0M1042.5 508.5h0M1044 509.6h0M1045.5 511.2h0M1049.5 508.1h0M1052.5 507.2h0M1050.5 511.3h0M1062.5 506.6h0M1045.5 518.4h0M1047.5 519h0M1049.5 519h0M1051.5 519h0M1046.5 522.3h0M1052.5 521.4h0M1053.5 520.6h0M1055.5 522.3h0M1052.5 522.4h0M1057.5 519h0M1059.5 520.1h0M1060.5 522.9h0M1061.5 518.2h0M1063.5 519h0M1064.5 522.9h0M1069.5 518.4h0M1069.7 522.2h0M1047.5 527h0M1051.5 527.6h0M1053.5 526.1h0M1056.5 526.9h0M1058.5 527.1h0M1060.5 526.1h0M1063.5 527.6h0M1066.5 529.2h0M1067.5 527.6h0M1061.5 534h0M1064.5 534h0M1068.5 534h0M1069.5 535.5h0M1054.5 538.8h0M1058.5 538.8h0M1065.5 537.9h0M1065.5 541h0M1067.5 545.7h0M1068.7 546.5h0M1082.5 504.1h0M1081 506.2h0M1080.3 508.8h0M1076.5 508.8h0M1085.5 509.6h0M1078.5 513.6h0M1097.5 507.2h0M1099.3 511.2h0M1097.3 512.1h0M1107 505h0M1109 505h0M1070.5 518.4h0M1074.5 519h0M1077.5 520h0M1082.5 518.2h0M1084.5 516.7h0M1092.5 519h0M1098.5 516.7h0M1098.5 520.6h0M1103.5 521.4h0M1101.5 524h0M1108.5 523.7h0M1096.5 524.5h0M1083.5 522.2h0M1089.5 522.2h0M1091.5 523.7h0M1088.5 524.5h0M1070.5 522.2h0M1072.7 522.2h0M1071.7 520.6h0M1077.5 524.5h0M1073.5 525.3h0M1075 526.9h0M1076.5 526.1h0M1072.5 528.4h0M1078.5 527.6h0M1079.5 529.2h0M1085.5 528.4h0M1087 528.4h0M1090.5 530h0M1089 531.6h0M1087.5 532.4h0M1107.5 530h0M1105.7 531.6h0M1105.7 532.6h0M1102.5 534.7h0M1114.5 530h0M1117.5 530.1h0M1120.5 530h0M1118.7 531.6h0M1121.5 532.1h0M1120.5 533.4h0M1118.5 532.6h0M1123.5 527.6h0M1122.7 517.4h0M1079.5 537.2h0M1084 537.2h0M1086.5 537.2h0M1092.5 536.3h0M1091.5 538.8h0M1102.5 536.3h0M1103.3 537.2h0M1109.5 536.3h0M1101.5 540.4h0M1104.5 541h0M1106.5 541h0M1112.5 539.4h0M1117.5 538.8h0M1119.5 539.4h0M1121.5 539.4h0M1122.5 537.2h0M1114.5 542.6h0M1116.5 543.3h0M1118.5 542.6h0M1123.5 544.1h0M1093.5 541.8h0M1095.5 542.6h0M1090.5 544.1h0M1093.5 544.9h0M1096 545.7h0M1071.5 540.2h0M1073.5 541.8h0M1083.5 547h0M1115.5 547.5h0M987.5 548.8h0M978.5 550.6h0M998.5 550.4h0M1002.3 548.9h0M1015.5 550.6h0M1011.7 551.2h0M1010.3 552.1h0M1001.3 552.8h0M1000.3 553.7h0M1007.5 555.2h0M975.5 556.8h0M997.5 557.6h0M1003.5 557.6h0M1000.5 560.6h0M1001.5 563.1h0M1002.5 566.2h0M1055.5 551.3h0M1065.5 559.2h0M1104.5 566.2h0M1113.5 563.9h0M1175.5 416.3h0M1185.5 428.1h0M1175.5 431.2h0M1162.3 431h0M1162.3 433.6h0M1166.5 430.3h0M1167.5 431.7h0M1184.3 434.3h0M1171.3 437.4h0M1160.3 438.2h0M1159.2 439.7h0M1164.3 440.5h0M1163.5 441.5h0M1168.3 439.9h0M1169.5 441.5h0M1171.7 438.9h0M1173 440.3h0M1174.1 441.5h0M1161.3 443.8h0M1172.3 444.5h0M1176.5 443.7h0M1183.5 443.7h0M1179.3 445.5h0M1178.5 447.7h0M1195.5 446h0M1193.5 448.5h0M1161.3 447.6h0M1159 449.2h0M1154.5 450h0M1155.7 451.5h0M1158 451h0M1158.3 452.6h0M1165.5 450.7h0M1171.5 452.4h0M1182.3 448.5h0M1183.3 450.2h0M1184.5 451.6h0M1181.3 453.2h0M1193.5 452.4h0M1164.3 454h0M1168.3 456.3h0M1177.5 455.6h0M1189.5 455.6h0M1194.5 458.7h0M1196.7 458.7h0M1160.3 460.2h0M1180.3 460.9h0M1178.3 462.8h0M1181.7 462.8h0M1186.5 464.2h0M1154.5 464.9h0M1165.5 465.9h0M1192.5 465.9h0M1155.5 468.1h0M1166.5 470.5h0M1177.3 468.9h0M1180.7 468.9h0M1192.3 468.3h0M1194.5 470.5h0M1191.3 471.3h0M1185.3 473.6h0M1187.5 475.8h0M1191.5 475.2h0M1206.5 475.9h0M1187.5 479.1h0M1189.5 482.2h0M1190.5 485.4h0M1188.5 488.4h0M1190.5 490.1h0M1186.3 490.9h0M1196.5 492.3h0M1200.5 494h0M1205.5 492.3h0M1210.5 492.3h0M1211.5 483.7h0M1208.5 487h0M1221.5 482.1h0M1222.5 483.7h0M1225.5 484.6h0M1237.5 478.3h0M1235.5 483h0M1237.7 483.8h0M1218.7 488.1h0M1218.3 490.5h0M1220.3 491.7h0M1224.5 491.7h0M1217.5 494h0M1233.5 492.3h0M1238.5 491.5h0M1243.5 490.8h0M1244.5 488.5h0M1209.5 496.3h0M1211 497.8h0M1213 497.3h0M1213.7 499.1h0M1214.7 500.4h0M1206.5 499.4h0M1208 502.5h0M1213.5 503.4h0M1204.5 505h0M1199.5 506.5h0M1198.3 507.5h0M1223.5 501h0M1225.5 501h0M1223.5 503.4h0M1229.5 501.9h0M1230.5 498.9h0M1231.5 497.8h0M1236.5 497h0M1236.5 499.4h0M1238.5 496.3h0M1240.5 494.7h0M1242.7 496h0M1244.5 496.5h0M1246.7 496h0M1241.5 501h0M1245.5 500.3h0M1228.5 505.8h0M1234.5 505.8h0M1236 505.8h0M1242.5 505h0M1239.5 507.5h0M1241.5 507.5h0M1219.5 508h0M1216.5 510.4h0M1215.3 511.3h0M1221.5 510.5h0M1229.5 509.6h0M1233.5 510.5h0M1230.5 512.2h0M1203.5 511.7h0M1197.5 513.6h0M1201.5 513.6h0M1205.5 514h0M1209.5 515.1h0M1199.5 516.1h0M1200.7 518.5h0M1212.5 517.7h0M1216.5 518.2h0M1222.5 517.7h0M1225.5 518.8h0M1227.5 518.8h0M1232.5 516.7h0M1246.7 512.7h0M1247.7 504.1h0M1203.2 520.5h0M1197.4 523.1h0M1202.4 526.9h0M1217.2 519.9h0M1227.2 521.1h0M1226.8 523h0M1228.8 523h0M1231.4 524.6h0M1234.4 527.7h0M1247.4 528.5h0M1247.4 516.1h0M1270.4 512.9h0M1279.6 512.3h0M1288 512.6h0M1281.6 514.5h0M1285.4 514.8h0M1276.4 515.8h0M1274.8 518h0M1275.4 519.9h0M1282.4 517.7h0M1280.4 520.7h0M1287.4 517.5h0M1290.6 519.2h0M1294.4 524.7h0M1296.6 524.7h0M1273.4 530.1h0M1292.4 530.1h0M1281.4 534.8h0M1293.6 537.1h0M1295.6 537.1h0M1255.5 457.1h0M1258.4 465.7h0M1257.3 468.1h0M1252.3 470.5h0M1255.5 472.2h0M1257.7 472.2h0M1264.4 469.6h0M1250.5 475.8h0M1262.5 475.2h0M1259.5 478.2h0M1261.6 478.2h0M1252.3 480h0M1256.5 480.6h0M1262.5 481.6h0M1264.7 481.6h0M1266.9 481.6h0M1268.9 481.6h0M1253.5 485.3h0M1261.4 486h0M1260.3 487.7h0M1256.5 488.4h0M1249.6 489.2h0M1251.5 490h0M1253.5 490h0M1249.6 492.3h0M1248.5 494.7h0M1263.3 490h0M1266.9 490.9h0M1266.1 491.8h0M1271.5 490.7h0M1272.6 493.2h0M1259.4 494.7h0M1254.4 497.1h0M1265.4 495.6h0M1272.6 497.9h0M1269.4 498.7h0M1267.5 500.4h0M1251.5 500.3h0M1254.4 508h0M1279 500.3h0M1284.5 496.4h0M1288.5 495.6h0M1286.7 501h0M1286.7 502.7h0M1283.5 504.9h0M1273.5 504.1h0M1274.6 505.7h0M1269.4 506.4h0M1271.5 506.4h0M1266.5 509.6h0M1268.3 510.5h0M1276.8 509h0M1279.3 510.2h0M1280.4 511.3h0M1293.6 507.3h0M1291.1 509.6h0M1288.9 510.7h0M1297.7 510.2h0M1295.5 511.3h0M1284.5 489.3h0M1292.5 489.3h0M1285.4 480h0M1291.4 476.8h0M1301.5 470.5h0M1299.1 474.3h0M1301 474.3h0M1298.4 478.3h0M1300.6 481.5h0M1297.3 483.1h0M1303.5 485.3h0M1298.5 487.7h0M1299.5 497.1h0M1301.3 498.7h0M1302.8 499.8h0" stroke="#000" stroke-width="3.9" stroke-linecap="round" fill="none" />
<path d="M295.4 493.9h0M306.4 493.9h0M335.4 493.9h0M389.4 478.2h0M436.6 495.5h0M439.2 494.6h0M441 496.8h0M493.4 571.7h0M522 467.7h0M523.5 472.4h0M575.5 478.2h0M574.5 486.1h0M574.5 492.4h0M587.5 493.9h0M618.4 570.1h0M653.4 576.4h0M720.4 494.7h0M1042.4 482.2h0M1100.4 482.2h0M1099.4 497.1h0M1174.3 404.1h0M1282.4 570.9h0" stroke="#ffa500" stroke-width="3.9" stroke-linecap="round" fill="none" />
<rect x="162" y="522.3" width="43.8" height="19.4" fill="#ffa500" fill-opacity="0.1"/>
<rect x="205.8" y="511" width="53.2" height="20" fill="#ffa500" fill-opacity="0.1"/>
<rect x="259" y="518.3" width="866.1" height="29" fill="#ffa500" fill-opacity="0.1"/>
<rect x="1125.1" y="460" width="178" height="55.2" fill="#ffa500" fill-opacity="0.1"/>
<line x1="160.7" x2="207.1" y1="532.3" y2="532.3" stroke="#ffa500" stroke-width="2.78" />
<line x1="204.5" x2="260.3" y1="520.7" y2="520.7" stroke="#ffa500" stroke-width="2.78" />
<line x1="257.7" x2="1126.4" y1="531.3" y2="531.3" stroke="#ffa500" stroke-width="2.78" />
<line x1="1123.8" x2="1304.4" y1="487.4" y2="487.4" stroke="#ffa500" stroke-width="2.78" />
<line x1="105.5" x2="1361" y1="522.9" y2="522.9" stroke="#ff0000" stroke-width="2.083" />
<line x1="162" x2="162" y1="666" y2="380.5" stroke="#800080" stroke-width="2.083" stroke-dasharray="2.083 3.4375"/>
<line x1="206" x2="206" y1="666" y2="380.5" stroke="#800080" stroke-width="2.083" stroke-dasharray="2.083 3.4375"/>
<line x1="259" x2="259" y1="666" y2="380.5" stroke="#800080" stroke-width="2.083" stroke-dasharray="2.083 3.4375"/>
<line x1="1125" x2="1125" y1="666" y2="380.5" stroke="#800080" stroke-width="2.083" stroke-dasharray="2.083 3.4375"/>
<line x1="1303" x2="1303" y1="666" y2="380.5" stroke="#800080" stroke-width="2.083" stroke-dasharray="2.083 3.4375"/>
<text x="183.8" y="657.3" font-size="13.889" text-anchor="middle" >55022</text>
<text x="232.1" y="637.3" font-size="13.889" text-anchor="middle" >51345</text>
<text x="691.3" y="617.3" font-size="13.889" text-anchor="middle" >47813</text>
<text x="1213.8" y="657.3" font-size="13.889" text-anchor="middle" >42058</text>
<rect x="105.5" y="380.5" width="1380" height="286" fill="none" stroke="#000" stroke-width="1.111"/>
<line x1="162.5" x2="162.5" y1="666.5" y2="671.9" stroke="#000" stroke-width="1.111"/>
<text x="163.2" y="686.9" font-size="13.889" text-anchor="middle" >0</text>
<line x1="434.5" x2="434.5" y1="666.5" y2="671.9" stroke="#000" stroke-width="1.111"/>
<text x="433" y="686.9" font-size="13.889" text-anchor="middle" >500</text>
<line x1="705.5" x2="705.5" y1="666.5" y2="671.9" stroke="#000" stroke-width="1.111"/>
<text x="705.2" y="686.9" font-size="13.889" text-anchor="middle" >1000</text>
<line x1="977.5" x2="977.5" y1="666.5" y2="671.9" stroke="#000" stroke-width="1.111"/>
<text x="977.3" y="686.9" font-size="13.889" text-anchor="middle" >1500</text>
<line x1="1248.5" x2="1248.5" y1="666.5" y2="671.9" stroke="#000" stroke-width="1.111"/>
<text x="1247.9" y="686.9" font-size="13.889" text-anchor="middle" >2000</text>
<line x1="100.1" x2="105.5" y1="402.5" y2="402.5" stroke="#000" stroke-width="1.111"/>
<text x="95.3" y="407.4" font-size="13.889" text-anchor="end" >9.90</text>
<line x1="100.1" x2="105.5" y1="445.5" y2="445.5" stroke="#000" stroke-width="1.111"/>
<text x="95.3" y="450.7" font-size="13.889" text-anchor="end" >9.85</text>
<line x1="100.1" x2="105.5" y1="489.5" y2="489.5" stroke="#000" stroke-width="1.111"/>
<text x="95.3" y="494.1" font-size="13.889" text-anchor="end" >9.80</text>
<line x1="100.1" x2="105.5" y1="532.5" y2="532.5" stroke="#000" stroke-width="1.111"/>
<text x="95.3" y="537.4" font-size="13.889" text-anchor="end" >9.75</text>
<line x1="100.1" x2="105.5" y1="575.5" y2="575.5" stroke="#000" stroke-width="1.111"/>
<text x="95.3" y="580.7" font-size="13.889" text-anchor="end" >9.70</text>
<line x1="100.1" x2="105.5" y1="619.5" y2="619.5" stroke="#000" stroke-width="1.111"/>
<text x="95.3" y="624" font-size="13.889" text-anchor="end" >9.65</text>
<line x1="100.1" x2="105.5" y1="662.5" y2="662.5" stroke="#000" stroke-width="1.111"/>
<text x="95.3" y="667.4" font-size="13.889" text-anchor="end" >9.60</text>
<text x="795.1" y="371.5" font-size="16.667" text-anchor="middle" >Magnitude Estimates</text>
<rect x="1365.5" y="387.4" width="113.1" height="48" rx="2.8" fill="#fff" fill-opacity="0.8" stroke="#ccc" stroke-width="1.111"/>
<line x1="1369" x2="1400" y1="399.3" y2="399.3" stroke="#ffa500" stroke-width="2.78" />
<line x1="1369" x2="1399" y1="421.9" y2="421.9" stroke="#ff0000" stroke-width="2.083" />
<text x="1410" y="403.5" font-size="13.889">mag<tspan font-size="9.9" font-style="italic" dy="2.6">OBSID</tspan></text>
<text x="1409" y="426.5" font-size="13.889" text-anchor="start" >mag</text>
<rect x="1348.5" y="613.5" width="130" height="45.5" rx="2.8" fill="#fff" fill-opacity="0.8" stroke="#ccc" stroke-width="1.111"/>
<path d="M1367.5 626.4h0" stroke="#ffa500" stroke-width="3.9" stroke-linecap="round" fill="none" />
<path d="M1367.5 647.4h0" stroke="#000" stroke-width="3.9" stroke-linecap="round" fill="none" />
<text x="1392.9" y="630" font-size="13.889" text-anchor="start" >Highlighted</text>
<text x="1392.9" y="651" font-size="13.889" text-anchor="start" >OK</text>
</g>
<g>
<path d="M162 763.6h0M162.5 763.6h0M163.1 763.6h0M163.6 763.6h0M164.2 763.6h0M164.7 763.6h0M165.3 763.6h0M165.8 763.6h0M166.3 763.6h0M166.9 763.6h0M167.4 763.6h0M168 763.6h0M168.5 763.6h0M169.1 763.6h0M169.6 763.6h0M170.1 763.6h0M170.7 763.6h0M171.2 763.6h0M171.8 763.6h0M172.3 763.6h0M172.9 763.6h0M173.4 763.6h0M173.9 763.6h0M174.5 763.6h0M175 763.6h0M175.6 763.6h0M176.1 763.6h0M176.7 763.6h0M177.2 763.6h0M177.8 763.6h0M178.3 763.6h0M178.8 763.6h0M179.4 763.6h0M179.9 763.6h0M180.5 763.6h0M181 763.6h0M206 763.6h0M206.5 763.6h0M207.1 763.6h0M207.6 763.6h0M208.2 763.6h0M208.7 763.6h0M209.3 763.6h0M209.8 763.6h0M210.3 763.6h0M210.9 763.6h0M211.4 763.6h0M212 763.6h0M212.5 763.6h0M213.1 763.6h0M213.6 763.6h0M214.1 763.6h0M214.7 763.6h0M215.2 763.6h0M215.8 763.6h0M216.3 763.6h0M216.9 763.6h0M217.4 763.6h0M217.9 763.6h0M218.5 763.6h0M219 763.6h0M219.6 763.6h0M220.1 763.6h0M220.7 763.6h0M221.2 763.6h0M221.7 763.6h0M222.3 763.6h0M222.8 763.6h0M223.4 763.6h0M223.9 763.6h0M224.5 763.6h0M225 763.6h0M225.5 763.6h0M226.1 763.6h0M226.6 763.6h0M227.2 763.6h0M227.7 763.6h0M228.3 763.6h0M228.8 763.6h0M229.3 763.6h0M229.9 763.6h0M230.4 763.6h0M231 763.6h0M231.5 763.6h0M232.1 763.6h0M232.6 763.6h0M233.1 763.6h0M233.7 763.6h0M234.2 763.6h0M234.8 763.6h0M235.3 763.6h0M235.9 763.6h0M236.4 763.6h0M237 763.6h0M237.5 763.6h0M238 763.6h0M238.6 763.6h0M239.1 763.6h0M239.7 763.6h0M240.2 763.6h0M240.8 763.6h0M241.3 763.6h0M258.7 763.6h0M259.2 763.6h0M259.8 763.6h0M260.3 763.6h0M260.8 763.6h0M261.4 763.6h0M261.9 763.6h0M262.5 763.6h0M263 763.6h0M263.6 763.6h0M264.1 763.6h0M264.6 763.6h0M265.2 763.6h0M265.7 763.6h0M266.3 763.6h0M266.8 763.6h0M267.4 763.6h0M267.9 763.6h0M268.5 763.6h0M269 763.6h0M269.5 763.6h0M270.1 763.6h0M270.6 763.6h0M271.2 763.6h0M271.7 763.6h0M272.3 763.6h0M272.8 763.6h0M273.3 763.6h0M273.9 763.6h0M274.4 763.6h0M275 763.6h0M275.5 763.6h0M276.1 763.6h0M276.6 763.6h0M277.1 763.6h0M277.7 763.6h0M278.2 763.6h0M278.8 763.6h0M279.3 763.6h0M279.9 763.6h0M280.4 763.6h0M280.9 763.6h0M281.5 763.6h0M282 763.6h0M282.6 763.6h0M755.1 763.6h0M755.6 763.6h0M756.2 763.6h0M756.7 763.6h0M757.3 763.6h0M757.8 763.6h0M758.3 763.6h0M758.9 763.6h0M759.4 763.6h0M760 763.6h0M760.5 763.6h0M761.1 763.6h0M761.6 763.6h0M762.1 763.6h0M762.7 763.6h0M763.2 763.6h0M763.8 763.6h0M764.3 763.6h0M764.9 763.6h0M765.4 763.6h0M765.9 763.6h0M766.5 763.6h0M767 763.6h0M767.6 763.6h0M768.1 763.6h0M768.7 763.6h0M769.2 763.6h0M769.8 763.6h0M770.3 763.6h0M770.8 763.6h0M771.4 763.6h0M771.9 763.6h0M772.5 763.6h0M773 763.6h0M773.6 763.6h0M774.1 763.6h0M774.6 763.6h0M775.2 763.6h0M775.7 763.6h0M776.3 763.6h0M776.8 763.6h0M777.4 763.6h0M777.9 763.6h0M778.4 763.6h0M779 763.6h0M779.5 763.6h0M780.1 763.6h0M780.6 763.6h0M781.2 763.6h0M781.7 763.6h0M782.2 763.6h0M782.8 763.6h0M783.3 763.6h0M783.9 763.6h0M784.4 763.6h0M785 763.6h0M785.5 763.6h0M786 763.6h0M786.6 763.6h0M787.1 763.6h0M787.7 763.6h0M788.2 763.6h0M788.8 763.6h0M789.3 763.6h0M789.8 763.6h0M790.4 763.6h0M790.9 763.6h0M791.5 763.6h0M792 763.6h0M792.6 763.6h0M793.1 763.6h0M793.6 763.6h0M794.2 763.6h0M794.7 763.6h0M795.3 763.6h0M795.8 763.6h0M796.4 763.6h0M796.9 763.6h0M797.5 763.6h0M798 763.6h0M798.5 763.6h0M799.1 763.6h0M799.6 763.6h0M800.2 763.6h0M800.7 763.6h0M801.3 763.6h0M801.8 763.6h0M802.3 763.6h0M802.9 763.6h0M803.4 763.6h0M804 763.6h0M804.5 763.6h0M805.1 763.6h0M805.6 763.6h0M806.1 763.6h0M806.7 763.6h0M807.2 763.6h0M807.8 763.6h0M808.3 763.6h0M808.9 763.6h0M809.4 763.6h0M809.9 763.6h0M810.5 763.6h0M811 763.6h0M811.6 763.6h0M812.1 763.6h0M812.7 763.6h0M813.2 763.6h0M813.7 763.6h0M814.3 763.6h0M814.8 763.6h0M815.4 763.6h0M815.9 763.6h0M816.5 763.6h0M817 763.6h0M817.5 763.6h0M818.1 763.6h0M818.6 763.6h0M819.2 763.6h0M819.7 763.6h0M820.3 763.6h0M820.8 763.6h0M821.3 763.6h0M821.9 763.6h0M822.4 763.6h0M823 763.6h0M823.5 763.6h0M824.1 763.6h0M824.6 763.6h0M825.1 763.6h0M825.7 763.6h0M826.2 763.6h0M826.8 763.6h0M827.3 763.6h0M827.9 763.6h0M828.4 763.6h0M829 763.6h0M829.5 763.6h0M830 763.6h0M830.6 763.6h0M831.1 763.6h0M831.7 763.6h0M832.2 763.6h0M832.8 763.6h0M833.3 763.6h0M833.8 763.6h0M834.4 763.6h0M834.9 763.6h0M835.5 763.6h0M836 763.6h0M836.6 763.6h0M837.1 763.6h0M837.6 763.6h0M838.2 763.6h0M838.7 763.6h0M839.3 763.6h0M839.8 763.6h0M840.4 763.6h0M840.9 763.6h0M841.4 763.6h0M842 763.6h0M842.5 763.6h0M843.1 763.6h0M843.6 763.6h0M844.2 763.6h0M844.7 763.6h0M845.2 763.6h0M845.8 763.6h0M846.3 763.6h0M846.9 763.6h0M847.4 763.6h0M848 763.6h0M848.5 763.6h0M849 763.6h0M849.6 763.6h0M850.1 763.6h0M850.7 763.6h0M851.2 763.6h0M851.8 763.6h0M852.3 763.6h0M852.8 763.6h0M853.4 763.6h0M853.9 763.6h0M854.5 763.6h0M855 763.6h0M855.6 763.6h0M856.1 763.6h0M856.7 763.6h0M857.2 763.6h0M857.7 763.6h0M858.3 763.6h0M858.8 763.6h0M859.4 763.6h0M859.9 763.6h0M860.5 763.6h0M861 763.6h0M861.5 763.6h0M862.1 763.6h0M862.6 763.6h0M863.2 763.6h0M863.7 763.6h0M864.3 763.6h0M864.8 763.6h0M865.3 763.6h0M865.9 763.6h0M866.4 763.6h0M867 763.6h0M867.5 763.6h0M868.1 763.6h0M868.6 763.6h0M869.1 763.6h0M869.7 763.6h0M870.2 763.6h0M870.8 763.6h0M871.3 763.6h0M871.9 763.6h0M872.4 763.6h0M872.9 763.6h0M873.5 763.6h0M874 763.6h0M874.6 763.6h0M875.1 763.6h0M875.7 763.6h0M876.2 763.6h0M876.7 763.6h0M877.3 763.6h0M877.8 763.6h0M878.4 763.6h0M878.9 763.6h0M879.5 763.6h0M880 763.6h0M880.5 763.6h0M881.1 763.6h0M881.6 763.6h0M882.2 763.6h0M882.7 763.6h0M883.3 763.6h0M883.8 763.6h0M884.3 763.6h0M884.9 763.6h0M885.4 763.6h0M886 763.6h0M886.5 763.6h0M887.1 763.6h0M887.6 763.6h0M888.2 763.6h0M888.7 763.6h0M889.2 763.6h0M889.8 763.6h0M890.3 763.6h0M890.9 763.6h0M891.4 763.6h0M892 763.6h0M892.5 763.6h0M893 763.6h0M893.6 763.6h0M894.1 763.6h0M894.7 763.6h0M895.2 763.6h0M895.8 763.6h0M896.3 763.6h0M896.8 763.6h0M897.4 763.6h0M897.9 763.6h0M898.5 763.6h0M899 763.6h0M899.6 763.6h0M900.1 763.6h0M900.6 763.6h0M901.2 763.6h0M901.7 763.6h0M902.3 763.6h0M902.8 763.6h0M903.4 763.6h0M903.9 763.6h0M904.4 763.6h0M905 763.6h0M905.5 763.6h0M906.1 763.6h0M906.6 763.6h0M907.2 763.6h0M907.7 763.6h0M908.2 763.6h0M908.8 763.6h0M909.3 763.6h0M909.9 763.6h0M910.4 763.6h0M911 763.6h0M911.5 763.6h0M912 763.6h0M912.6 763.6h0M913.1 763.6h0M913.7 763.6h0M914.2 763.6h0M914.8 763.6h0M915.3 763.6h0M915.9 763.6h0M916.4 763.6h0M916.9 763.6h0M917.5 763.6h0M918 763.6h0M918.6 763.6h0M919.1 763.6h0M919.7 763.6h0M920.2 763.6h0M920.7 763.6h0M921.3 763.6h0M921.8 763.6h0M922.4 763.6h0M922.9 763.6h0M923.5 763.6h0M924 763.6h0M924.5 763.6h0M925.1 763.6h0M925.6 763.6h0M926.2 763.6h0M926.7 763.6h0M927.3 763.6h0M927.8 763.6h0M928.3 763.6h0M928.9 763.6h0M929.4 763.6h0M930 763.6h0M930.5 763.6h0M931.1 763.6h0M931.6 763.6h0M932.1 763.6h0M932.7 763.6h0M933.2 763.6h0M933.8 763.6h0M934.3 763.6h0M934.9 763.6h0M935.4 763.6h0M935.9 763.6h0M936.5 763.6h0M937 763.6h0M937.6 763.6h0M938.1 763.6h0M938.7 763.6h0M939.2 763.6h0M939.7 763.6h0M940.3 763.6h0M940.8 763.6h0M941.4 763.6h0M941.9 763.6h0M942.5 763.6h0M943 763.6h0M943.5 763.6h0M944.1 763.6h0M944.6 763.6h0M945.2 763.6h0M945.7 763.6h0M946.3 763.6h0M946.8 763.6h0M947.4 763.6h0M947.9 763.6h0M948.4 763.6h0M949 763.6h0M949.5 763.6h0M950.1 763.6h0M950.6 763.6h0M951.2 763.6h0M951.7 763.6h0M952.2 763.6h0M952.8 763.6h0M953.3 763.6h0M953.9 763.6h0M954.4 763.6h0M955 763.6h0M955.5 763.6h0M956 763.6h0M956.6 763.6h0M957.1 763.6h0M957.7 763.6h0M958.2 763.6h0M958.8 763.6h0M959.3 763.6h0M959.8 763.6h0M960.4 763.6h0M960.9 763.6h0M961.5 763.6h0M962 763.6h0M962.6 763.6h0M963.1 763.6h0M963.6 763.6h0M964.2 763.6h0M964.7 763.6h0M965.3 763.6h0M965.8 763.6h0M966.4 763.6h0M966.9 763.6h0M967.4 763.6h0M968 763.6h0M968.5 763.6h0M969.1 763.6h0M969.6 763.6h0M970.2 763.6h0M970.7 763.6h0M971.2 763.6h0M971.8 763.6h0M972.3 763.6h0M972.9 763.6h0M1125 763.6h0M1125.5 763.6h0M1126 763.6h0M1126.6 763.6h0M1127.1 763.6h0M1127.7 763.6h0M1128.2 763.6h0M1128.8 763.6h0M1129.3 763.6h0M1129.8 763.6h0M1130.4 763.6h0M1130.9 763.6h0M1131.5 763.6h0M1132 763.6h0M1132.6 763.6h0M1133.1 763.6h0M1133.6 763.6h0M1134.2 763.6h0M1134.7 763.6h0M1135.3 763.6h0M1135.8 763.6h0M1136.4 763.6h0M1136.9 763.6h0M1137.4 763.6h0M1138 763.6h0M1138.5 763.6h0M1139.1 763.6h0M1139.6 763.6h0M1140.2 763.6h0M1140.7 763.6h0M1141.2 763.6h0M1141.8 763.6h0M1142.3 763.6h0M1142.9 763.6h0M1143.4 763.6h0M1144 763.6h0M1144.5 763.6h0M1145 763.6h0M1145.6 763.6h0M1146.1 763.6h0M1146.7 763.6h0M1147.2 763.6h0M1147.8 763.6h0M1148.3 763.6h0M1148.8 763.6h0M1149.4 763.6h0M1149.9 763.6h0M1150.5 763.6h0M1151 763.6h0M1151.6 763.6h0M1152.1 763.6h0M1152.7 763.6h0M1153.2 763.6h0M1153.7 763.6h0" stroke="#000" stroke-width="3.0" stroke-linecap="round" fill="none" />
<path d="M188.1 840.3h0M251.6 840.3h0M252.7 840.3h0M253.8 840.3h0M254.9 840.3h0M256 840.3h0M257 840.3h0M258.1 840.3h0M289.1 840.3h0M319 840.3h0M332 840.3h0M333.6 840.3h0M464 840.3h0M467.2 840.3h0M626.9 840.3h0M628.5 840.3h0M1004.4 840.3h0M1006 840.3h0M1007.6 840.3h0M1009.8 840.3h0M1016.9 840.3h0M1018.5 840.3h0M1110.8 840.3h0M1112.5 840.3h0M1114.1 840.3h0" stroke="#000" stroke-width="2.8" stroke-linecap="round" fill="none" />
<path d="M188.1 878.4h0M251.6 878.4h0M252.7 878.4h0M253.8 878.4h0M254.9 878.4h0M256 878.4h0M257 878.4h0M258.1 878.4h0M289.1 878.4h0M319 878.4h0M332 878.4h0M333.6 878.4h0M464 878.4h0M467.2 878.4h0M626.9 878.4h0M628.5 878.4h0M1004.4 878.4h0M1006 878.4h0M1007.6 878.4h0M1009.8 878.4h0M1016.9 878.4h0M1018.5 878.4h0M1110.8 878.4h0M1112.5 878.4h0M1114.1 878.4h0M1058.7 878.4h0" stroke="#000" stroke-width="2.8" stroke-linecap="round" fill="none" />
<path d="M180.5 1008h0M181 1007h0M181.6 1007.9h0M182.1 1007.7h0M182.6 1007.7h0M183.2 1008h0M183.7 1008.3h0M184.3 1007.6h0M184.8 1007.7h0M185.4 1008.7h0M185.9 1007h0M186.4 1007.6h0M187 1008.4h0M187.5 1007.7h0M188.1 1008.3h0M188.6 1008.1h0M189.2 1007.8h0M189.7 1008.6h0M190.2 1007.9h0M191.3 1007.6h0M191.9 1008.3h0M192.4 1007.8h0M193 1008.8h0M193.5 1008.2h0M194 1007.9h0M194.6 1008.6h0M195.1 1008h0M195.7 1007.2h0M196.8 1007.5h0M197.3 1007.5h0M197.8 1008.2h0M198.4 1008.2h0M198.9 1008.3h0M199.5 1007.4h0M200 1007.3h0M200.6 1007.8h0M201.1 1007.9h0M201.6 1007.2h0M202.2 1007.1h0M202.7 1007.2h0M203.3 1006.6h0M203.8 1007h0M204.4 1007h0M204.9 1007.3h0M205.4 1006.7h0M206 1006.1h0M241.3 1006.2h0M241.8 1006.3h0M242.4 1006.2h0M242.9 1006.3h0M243.5 1006.3h0M244 1006.3h0M244.6 1006.4h0M245.1 1007h0M245.6 1006.6h0M246.7 1006.9h0M247.3 1007.6h0M247.8 1007.3h0M248.4 1007.2h0M248.9 1007.7h0M249.4 1007.6h0M250 1008.4h0M250.5 1008.2h0M251.1 1007.7h0M251.6 1008.6h0M252.2 1007.9h0M252.7 1008.6h0M253.2 1008.2h0M253.8 1008.1h0M254.3 1007.5h0M254.9 1007.1h0M255.4 1007.6h0M256 1007.1h0M256.5 1005.9h0M257 1006.2h0M258.1 1005h0M258.7 1004.8h0M259.2 1004.6h0M259.8 1004.6h0M282 1000.3h0M282.6 1003.8h0M283.1 1000.8h0M283.7 998.6h0M284.2 997.6h0M284.7 1002.4h0M285.3 1003h0M285.8 1000.5h0M286.4 997.4h0M286.9 998.9h0M287.5 1001.9h0M288 1005.3h0M288.5 1003.4h0M289.6 1001.6h0M290.2 1005.2h0M290.7 1004.5h0M291.3 1004.5h0M291.8 1005h0M292.3 1004h0M292.9 1003.2h0M293.4 1003.6h0M294 1003.7h0M294.5 1002.4h0M295.1 1001.5h0M295.6 1001.8h0M296.2 1004.2h0M296.7 1004.4h0M297.2 1003.7h0M297.8 1003.8h0M298.3 1002.7h0M298.9 1002.2h0M299.4 1001.3h0M300 1000.4h0M300.5 1000h0M301 999.7h0M301.6 999.4h0M302.1 998.9h0M302.7 997.9h0M303.2 996.8h0M303.8 996.6h0M304.3 996.2h0M304.8 995.6h0M305.4 995.3h0M305.9 994.6h0M306.5 994.8h0M307 994.9h0M307.6 998.4h0M308.1 1001.4h0M308.6 1002.2h0M309.2 1002.6h0M309.7 1002.3h0M310.3 1002.6h0M310.8 1001.5h0M311.4 1001.6h0M311.9 1000.6h0M312.4 1000.4h0M313 1000.8h0M313.5 1000h0M314.1 1001h0M314.6 1000h0M315.2 999.1h0M315.7 999.1h0M316.8 999.2h0M317.3 999.6h0M317.9 999.4h0M318.4 998.6h0M319 997.8h0M319.5 999.4h0M320 1004.6h0M320.6 1004.4h0M321.1 1004.1h0M321.7 1004.6h0M322.2 1004.3h0M322.8 1003.9h0M323.3 1004.1h0M323.8 1004h0M324.4 1003.5h0M324.9 1002.8h0M325.5 1002.3h0M326 1002.1h0M326.6 1001.7h0M327.1 1001.7h0M327.7 1001.5h0M328.2 1000.5h0M328.7 1000.8h0M329.3 1000.6h0M329.8 1000h0M330.4 999.6h0M330.9 999.4h0M331.5 999.4h0M332 999.2h0M332.5 998.6h0M333.1 998.3h0M333.6 997.4h0M334.2 997.4h0M334.7 996.9h0M335.3 997h0M335.8 996.5h0M336.3 997.9h0M336.9 997h0M337.4 996.9h0M338 997.8h0M338.5 996.5h0M339.1 997.5h0M339.6 997.4h0M340.1 997.6h0M340.7 996.7h0M341.2 996.9h0M341.8 997.1h0M342.3 996.7h0M342.9 996.4h0M343.4 996h0M343.9 996.3h0M344.5 1001.7h0M345 1001.5h0M345.6 1002.1h0M346.1 1001.3h0M346.7 1000.6h0M347.2 1000.6h0M347.7 1000.7h0M348.3 1000.7h0M348.8 999.8h0M349.4 1000.2h0M349.9 999.8h0M350.5 999.9h0M351 1000.2h0M351.5 999.2h0M352.1 1000.2h0M352.6 1000.1h0M353.2 999.6h0M353.7 999.6h0M354.3 999.5h0M354.8 999.4h0M355.4 998.6h0M355.9 998.8h0M356.4 998.6h0M357 999.3h0M357.5 998.9h0M358.1 996.5h0M358.6 994.4h0M359.2 993.4h0M359.7 994.3h0M360.2 993.7h0M360.8 994.2h0M361.3 993.7h0M361.9 994.2h0M362.4 993.9h0M363 993.1h0M363.5 993.9h0M364 992.9h0M364.6 994.5h0M365.1 997.6h0M365.7 997.2h0M366.2 997.4h0M366.8 996.6h0M367.3 997h0M367.8 996.9h0M368.4 996.9h0M368.9 995.8h0M369.5 996.2h0M370 995.9h0M370.6 996.1h0M371.1 995.8h0M371.6 995h0M372.2 994.3h0M372.7 994h0M373.3 994.5h0M373.8 1000.2h0M374.4 1001.2h0M374.9 1002.5h0M375.4 1002.6h0M376 1004.6h0M376.5 1004.2h0M377.1 1001.9h0M377.6 1001.9h0M378.2 1000.8h0M378.7 1002.8h0M379.2 1003.6h0M379.8 1003.9h0M380.3 1005.1h0M380.9 1005.2h0M381.4 1005.8h0M382 1006.3h0M382.5 1006.5h0M383 1006.9h0M383.6 1007.1h0M384.1 1007.7h0M384.7 1008.5h0M385.2 1007.3h0M385.8 1007h0M386.3 1007.8h0M386.9 1006.5h0M387.4 1006.1h0M387.9 1005.6h0M388.5 1005.4h0M389 1005.8h0M389.6 1005h0M390.1 1005.4h0M390.7 1004.2h0M391.2 1002.9h0M391.7 1003.1h0M392.3 1002.7h0M392.8 1002.9h0M393.4 1002.8h0M393.9 1002.4h0M394.5 1001.6h0M395 1001.6h0M395.5 1001.2h0M396.1 1000.1h0M396.6 1000.8h0M397.2 999.8h0M397.7 997.5h0M398.3 995.5h0M399.3 995.9h0M399.9 995.2h0M400.4 995.3h0M401 995.1h0M401.5 995.7h0M402.1 995.1h0M402.6 995.1h0M403.1 995.4h0M403.7 995.2h0M404.2 995.3h0M404.8 994.4h0M405.3 996.3h0M405.9 995.5h0M406.4 999.2h0M406.9 998.7h0M407.5 998.8h0M408 998.8h0M408.6 998.4h0M409.1 999.4h0M409.7 999.2h0M410.2 999h0M410.7 999.4h0M411.3 998.8h0M411.8 998.9h0M412.4 999.4h0M412.9 999.9h0M413.5 998.6h0M414 999.1h0M414.6 999.2h0M415.1 999.3h0M415.6 998.9h0M416.2 998.2h0M416.7 998.1h0M417.3 998.4h0M417.8 998.4h0M418.4 999.2h0M418.9 1000.1h0M419.4 1000.7h0M420 1000.4h0M420.5 1001.2h0M421.1 1001.2h0M421.6 1002.7h0M422.2 1003.4h0M422.7 1003.4h0M423.2 1003.6h0M423.8 1004.4h0M424.3 1005.1h0M424.9 1005h0M425.4 1006.5h0M426 1006.5h0M426.5 1006.1h0M427 1005.7h0M427.6 1005.2h0M428.1 1004.7h0M428.7 1004.8h0M429.2 1004.1h0M429.8 1004.8h0M430.3 1003.3h0M430.8 1003.8h0M431.4 1002.4h0M431.9 1002.6h0M432.5 1001.5h0M433 1001h0M433.6 1000.2h0M434.1 999.5h0M434.6 999.3h0M435.2 998.6h0M435.7 997.9h0M436.3 998h0M436.8 997.1h0M437.4 996.9h0M437.9 995.6h0M438.4 994.1h0M439 999.5h0M439.5 999.3h0M440.6 996.7h0M441.2 996.5h0M441.7 996.1h0M442.2 1001.7h0M442.8 1001.4h0M443.3 1001h0M443.9 999.9h0M444.4 999.7h0M445 1000h0M445.5 999.2h0M446.1 999.1h0M446.6 998.7h0M447.1 998.5h0M447.7 996.8h0M448.2 997.3h0M449.3 996.1h0M449.9 996.3h0M450.4 995.6h0M450.9 995.3h0M451.5 995.1h0M452 993.9h0M452.6 994.4h0M453.1 994.3h0M453.7 994.3h0M454.2 996h0M454.7 998.5h0M455.3 999h0M455.8 997h0M456.4 996.4h0M457.5 996h0M458 995.9h0M458.5 997.3h0M459.1 996.5h0M459.6 997h0M460.2 996.4h0M460.7 996.4h0M461.3 997.2h0M461.8 996.5h0M462.3 995.6h0M462.9 994h0M463.4 995h0M464 995.4h0M464.5 995.7h0M465.1 995.5h0M466.7 998.1h0M467.2 998.1h0M467.8 999.1h0M468.3 999h0M468.9 1000.2h0M469.4 995.2h0M469.9 994.3h0M470.5 994.5h0M471 995.2h0M471.6 995.1h0M472.1 996h0M472.7 997.2h0M473.2 996.5h0M473.8 997.4h0M474.3 998h0M474.8 997.6h0M475.4 999h0M475.9 999h0M476.5 999.8h0M477 999.4h0M477.6 1000.4h0M478.1 1000.5h0M478.6 1001.5h0M479.2 1000.7h0M479.7 1002.1h0M480.3 1001.6h0M480.8 1001.9h0M481.4 1002.2h0M481.9 1002.3h0M482.4 1003.9h0M483 1003.6h0M483.5 1004h0M484.1 1004.2h0M484.6 1003.7h0M485.2 1003.9h0M485.7 1004h0M486.8 1002.6h0M487.3 1003.5h0M487.9 1002.8h0M488.4 1003h0M489 1001.9h0M489.5 1002.8h0M490 1002h0M490.6 1001.7h0M491.1 1001.3h0M491.7 1000.1h0M492.2 1000.2h0M493.3 999.4h0M493.8 1000.5h0M494.4 1000.5h0M494.9 1000.1h0M495.5 999.1h0M496 998.7h0M496.6 999.6h0M497.1 998.2h0M497.6 998.2h0M498.2 997.5h0M498.7 997.7h0M499.3 996.9h0M499.8 996.7h0M500.4 997.2h0M500.9 995.8h0M502 995.5h0M502.5 995h0M503.1 995.7h0M504.2 995h0M504.7 994.8h0M505.3 994h0M505.8 993.7h0M506.3 994.4h0M506.9 996.2h0M507.4 998.7h0M508 1000.9h0M508.5 1001.1h0M509.1 1000.9h0M509.6 1001.2h0M510.1 1000.9h0M510.7 1000h0M511.2 999.1h0M511.8 998.8h0M512.3 999.6h0M512.9 1000.5h0M513.4 1001.5h0M513.9 1002h0M514.5 1002.9h0M515 1003.4h0M515.6 1004.2h0M516.1 1004.6h0M517.2 1006.4h0M517.7 1007.1h0M518.8 1007.5h0M519.4 1007.2h0M519.9 1006.3h0M520.5 1005.4h0M521 1004.7h0M521.5 1004.2h0M522.1 1004.1h0M522.6 1005.1h0M523.2 1005.6h0M523.7 1005.8h0M524.3 1005.5h0M524.8 1005h0M525.3 1003.7h0M525.9 1003.6h0M526.4 1003.6h0M527 1003.2h0M527.5 1001.6h0M528.1 1001.4h0M528.6 1000.5h0M529.1 1000.1h0M529.7 999.4h0M530.2 999.2h0M530.8 1000.1h0M531.3 1000.1h0M531.9 1000.1h0M533 1002.2h0M533.5 1002.5h0M534 1002.9h0M534.6 1002.2h0M535.1 1001.4h0M535.7 1001.3h0M536.2 1001.9h0M536.8 1000.8h0M537.3 1000.2h0M537.8 1000.4h0M538.4 999.1h0M538.9 999.8h0M539.5 998.7h0M540 997.9h0M540.6 999.4h0M541.1 998.9h0M541.6 998.5h0M542.2 997.3h0M542.7 999.3h0M543.3 998.3h0M543.8 998.3h0M544.4 998.6h0M544.9 998.7h0M545.4 998.5h0M546 998.3h0M546.5 998.6h0M547.6 998.4h0M548.2 998.1h0M548.7 998.4h0M549.2 998.4h0M549.8 998.4h0M550.3 998.9h0M550.9 998.8h0M551.4 998.2h0M552 998.6h0M552.5 999.3h0M553 999h0M553.6 999.8h0M554.1 999.6h0M554.7 1000.4h0M555.2 1000.5h0M555.8 1000.7h0M556.3 1000.1h0M556.8 1000.7h0M557.4 1000.9h0M557.9 1001.3h0M558.5 1001.5h0M559.6 1001.9h0M560.1 1002.4h0M560.7 1003.1h0M561.2 1003.3h0M561.7 1002.8h0M562.3 1003h0M562.8 1003.6h0M563.4 1004.8h0M563.9 1003.7h0M564.5 1003.1h0M565 1002h0M565.5 1000.6h0M566.1 999.7h0M566.6 999.9h0M567.2 1000.6h0M567.7 1001.3h0M568.3 1000.5h0M568.8 999.8h0M569.3 999h0M569.9 1000.1h0M570.4 998.3h0M571 997.5h0M571.5 997.9h0M572.1 997.3h0M572.6 996.4h0M573.1 996.3h0M573.7 996.6h0M574.2 996h0M574.8 995.5h0M575.3 997.9h0M575.9 1001.5h0M576.4 1005.9h0M576.9 1005.7h0M577.5 1004.5h0M578 1003.1h0M578.6 1002.9h0M579.1 1002.8h0M579.7 1000.6h0M580.2 1000.3h0M580.7 998.9h0M581.3 998.8h0M581.8 997.9h0M582.4 997.5h0M582.9 996.8h0M583.5 995.7h0M584 995.9h0M584.5 995h0M585.1 994.4h0M585.6 994h0M586.2 994.2h0M586.7 993.8h0M587.3 997.5h0M588.3 1002.7h0M588.9 1001.3h0M589.4 1000.1h0M590 999.1h0M590.5 999h0M591.1 999.2h0M591.6 998.4h0M592.2 998.8h0M592.7 998.1h0M593.2 999.3h0M593.8 998.6h0M594.3 998.2h0M594.9 994.1h0M595.4 995.4h0M596 994.4h0M596.5 994.7h0M597 995.1h0M597.6 996h0M598.1 995.5h0M598.7 996.6h0M599.2 996.4h0M599.8 997.1h0M600.3 997.4h0M600.8 997.8h0M601.4 998.1h0M601.9 997.9h0M602.5 998.2h0M603 998.6h0M603.6 999.2h0M604.1 999.6h0M604.6 1000.1h0M605.2 1000h0M605.7 1001.3h0M606.3 1001.7h0M607.4 1002.9h0M607.9 1002.7h0M609.5 1003.6h0M610.1 1003h0M610.6 1003.2h0M611.2 1003h0M611.7 1002.5h0M612.2 1003.1h0M612.8 1003.3h0M613.9 1002.4h0M614.4 1003.3h0M615 1002.2h0M615.5 1002.3h0M616 1002.1h0M616.6 1002h0M617.1 1001.4h0M617.7 1000.7h0M618.2 1000.6h0M618.8 1000.2h0M619.3 1000.4h0M619.9 999.3h0M620.4 999h0M620.9 999.1h0M621.5 999.7h0M622 998.1h0M622.6 996.5h0M623.1 997.2h0M623.7 997.1h0M624.2 995.5h0M624.7 998.8h0M625.3 1001h0M625.8 1000.6h0M626.4 1001.1h0M626.9 1000.1h0M627.5 999.3h0M628 999.6h0M628.5 998.8h0M629.1 998.7h0M629.6 997.9h0M630.2 997.2h0M631.3 997.4h0M631.8 996.7h0M632.3 996.8h0M632.9 996.5h0M633.4 995.9h0M634 995.5h0M634.5 995.3h0M635.1 994.6h0M635.6 994h0M636.1 993.7h0M636.7 993.5h0M637.2 993.6h0M637.8 994.9h0M638.3 994.7h0M638.9 994.8h0M639.4 994.9h0M639.9 996.1h0M640.5 994.8h0M641 996.2h0M641.6 995.9h0M642.1 995.9h0M642.7 995.9h0M643.2 996.9h0M643.7 997h0M644.3 996.8h0M644.8 996.9h0M645.4 997h0M645.9 997.6h0M646.5 998h0M647 998.5h0M647.5 997.5h0M648.1 999h0M648.6 998.4h0M649.2 998.9h0M649.7 999h0M650.3 999.2h0M651.4 1000.1h0M651.9 1000.2h0M652.4 1001.4h0M653 1000.9h0M653.5 1001.6h0M654.1 1001.6h0M654.6 1001.7h0M655.2 1002.9h0M655.7 1003.3h0M656.2 1004.5h0M656.8 1005h0M657.3 1006.1h0M657.9 1007.7h0M658.4 1007.7h0M659 1002.2h0M659.5 1001h0M660 1001.8h0M660.6 1002.6h0M661.1 1002.9h0M661.7 1003.7h0M662.2 1004.9h0M663.3 1007h0M663.8 1002.1h0M664.4 1000.2h0M665.5 1001.1h0M666 1001.8h0M666.6 1001.4h0M667.6 1002.3h0M668.2 1002.2h0M668.7 1001.7h0M669.3 1001h0M669.8 1000.3h0M670.4 1004.2h0M670.9 1004.3h0M671.4 1004h0M672 1002.6h0M672.5 1002.8h0M673.1 1002.3h0M673.6 1001.9h0M674.2 1001.4h0M674.7 1000.6h0M675.2 1000.3h0M675.8 999.4h0M676.3 999.1h0M676.9 998.6h0M677.4 998.6h0M678 998.1h0M678.5 997.6h0M679.1 997.3h0M679.6 996.9h0M680.1 996h0M680.7 996.6h0M681.2 996.7h0M681.8 995.5h0M682.3 995.8h0M682.9 995h0M683.4 995.5h0M683.9 995.8h0M684.5 994.3h0M685 994.9h0M685.6 995.2h0M686.1 996h0M686.7 998.2h0M687.2 998.8h0M687.7 998.4h0M688.8 999.3h0M689.4 998.9h0M689.9 998.6h0M690.5 998.2h0M691 998.6h0M691.5 999.2h0M692.6 999.3h0M693.2 999.3h0M693.7 999.1h0M694.3 999.8h0M694.8 998.1h0M695.3 999.3h0M695.9 1000.2h0M696.4 1001.1h0M697 1000.7h0M697.5 999.2h0M698.1 998.3h0M698.6 998.2h0M699.1 998.4h0M699.7 998.5h0M700.8 1000.2h0M701.3 999.5h0M701.9 999.6h0M702.4 999.2h0M702.9 999.5h0M703.5 999.8h0M704 999.2h0M704.6 998.3h0M705.1 997.2h0M705.7 998.5h0M706.7 1007.7h0M707.3 1006.7h0M707.8 1005.8h0M708.4 1005.2h0M708.9 1004.7h0M709.5 1003.6h0M710 1004h0M710.6 1003.9h0M711.1 1002.8h0M711.6 1002.3h0M712.2 1000.3h0M712.7 1000.6h0M713.3 1000.4h0M713.8 998.8h0M714.4 997.9h0M714.9 997.6h0M715.4 996.9h0M716.5 995.3h0M717.1 999h0M717.6 999.4h0M718.2 998.5h0M719.2 996.9h0M719.8 996.2h0M720.3 995.8h0M720.9 1003.3h0M721.4 1002.5h0M722 1002.6h0M722.5 1001.4h0M723 1001h0M723.6 1001.9h0M724.1 1000.6h0M724.7 1000.5h0M725.2 1000.6h0M725.8 1001.4h0M726.3 1002.6h0M726.8 1003.4h0M727.4 1002.2h0M727.9 1000h0M728.5 998.4h0M729 998.9h0M729.6 999h0M730.1 1001.5h0M731.2 1002.4h0M731.7 1002.5h0M732.3 1004.6h0M732.8 1004h0M733.4 1003.7h0M733.9 1004.2h0M734.4 1004.1h0M735 1005.1h0M735.5 1005.2h0M736.1 1005.5h0M736.6 1005.3h0M737.2 1005.5h0M737.7 1006h0M738.3 1006.2h0M738.8 1006.3h0M739.3 1006.2h0M739.9 1006.6h0M740.4 1006.3h0M741 1006.4h0M741.5 1006.6h0M742.1 1006.6h0M742.6 1005.8h0M743.1 1006.7h0M743.7 1006.3h0M744.2 1006h0M744.8 1006.2h0M745.3 1006.6h0M745.9 1006.2h0M746.4 1007.3h0M746.9 1007.2h0M747.5 1006.9h0M748 1006.8h0M748.6 1006.7h0M749.1 1005.9h0M749.7 1005.9h0M750.2 1006.6h0M750.7 1006.5h0M751.3 1006.9h0M751.8 1006.4h0M752.4 1007.1h0M753.5 1006.7h0M754 1006.2h0M754.5 1007h0M755.1 1005.9h0M755.6 1006.2h0M974.5 998.1h0M975.1 1000.3h0M975.6 1000.2h0M976.1 999h0M976.7 998.3h0M977.2 996.3h0M977.8 996.3h0M978.3 995.5h0M978.9 994.9h0M979.4 995.3h0M979.9 995.5h0M980.5 996.2h0M981 997.1h0M981.6 997.1h0M982.7 996.6h0M983.2 997.1h0M983.7 997.9h0M984.3 997.8h0M984.8 998h0M985.4 998.2h0M985.9 998.4h0M986.5 998.4h0M987 998.9h0M987.5 1000h0M988.1 1000.3h0M988.6 998.8h0M989.2 999.2h0M989.7 1000.6h0M990.8 1000.2h0M991.3 1000.2h0M991.9 1001.2h0M992.4 1000h0M993 1000.4h0M993.5 1000.2h0M994.6 1000.3h0M995.1 1000.3h0M995.7 1001.1h0M996.2 1001.4h0M996.8 1001.9h0M997.3 1001.7h0M997.9 1002.2h0M998.4 1002.9h0M998.9 1002.1h0M999.5 1002.5h0M1000.6 1004.1h0M1001.1 1003.6h0M1001.7 1004.3h0M1002.2 1003.3h0M1002.7 1003.6h0M1003.3 1003.2h0M1003.8 1002.9h0M1004.4 1002.6h0M1004.9 1003h0M1005.5 1002.5h0M1006 1002.5h0M1006.6 1002.1h0M1007.1 1002h0M1007.6 1001.4h0M1008.2 1001.5h0M1008.7 1001.5h0M1009.3 1000.7h0M1009.8 1000.8h0M1010.4 999.7h0M1010.9 998.7h0M1011.4 999.1h0M1012 999h0M1012.5 997.9h0M1013.1 997.6h0M1013.6 997h0M1014.2 997h0M1014.7 996.4h0M1015.2 996.5h0M1015.8 995.1h0M1016.3 995.5h0M1016.9 994.9h0M1017.4 994.4h0M1018 994.5h0M1018.5 993.9h0M1019 1000.5h0M1019.6 1000.4h0M1020.7 999.7h0M1021.2 1000.3h0M1021.8 1000h0M1022.3 999.8h0M1022.8 999.5h0M1023.4 998.7h0M1023.9 999h0M1025 998.6h0M1025.6 998.1h0M1026.1 998.7h0M1026.6 997.7h0M1027.2 998.9h0M1027.7 998.1h0M1028.3 997h0M1028.8 996.7h0M1029.4 997.1h0M1029.9 997.2h0M1030.4 996.4h0M1031 996.7h0M1031.5 995.7h0M1032.1 995.7h0M1032.6 995.7h0M1033.2 1001.8h0M1033.7 1001.4h0M1034.3 1002.2h0M1034.8 1002.5h0M1035.3 1002.9h0M1035.9 1003.1h0M1036.4 1003.1h0M1037 1002.8h0M1038.1 1001.1h0M1038.6 1002.3h0M1039.1 1001.4h0M1039.7 1001.8h0M1040.2 999.7h0M1040.8 997.6h0M1041.3 996.1h0M1041.9 995.9h0M1042.4 996.2h0M1042.9 996.8h0M1043.5 996.9h0M1044 998h0M1044.6 998.1h0M1045.1 997.7h0M1045.7 999.3h0M1046.2 1000h0M1046.7 1000.7h0M1047.3 1000.5h0M1047.8 1001.3h0M1048.4 1002.1h0M1048.9 1002.6h0M1049.5 1002.6h0M1050 1003.3h0M1050.5 1002.3h0M1051.1 1003.5h0M1051.6 1003.8h0M1052.2 1004h0M1052.7 1005h0M1053.3 1005.1h0M1053.8 1004.9h0M1054.3 1005.1h0M1054.9 1005.8h0M1055.4 1004.9h0M1056 1005.7h0M1056.5 1005.6h0M1057.6 1006.3h0M1058.1 1005h0M1058.7 1005.8h0M1059.2 1006.5h0M1059.8 1006.6h0M1060.3 1005.4h0M1060.9 1004.9h0M1061.4 1005.1h0M1061.9 1004.2h0M1062.5 1004.9h0M1063 1004.4h0M1063.6 1004.2h0M1064.1 1004.7h0M1064.7 1003.7h0M1065.8 1002.6h0M1066.8 1001.8h0M1067.4 1002.2h0M1067.9 1001.1h0M1068.5 1000.6h0M1069 1000.6h0M1069.6 999.9h0M1070.1 999.5h0M1070.6 999h0M1071.2 999.1h0M1071.7 998.5h0M1072.3 998.3h0M1072.8 998h0M1073.4 997.9h0M1073.9 997.4h0M1074.4 997.4h0M1075 996.7h0M1075.5 995.9h0M1076.1 995.6h0M1076.6 995.3h0M1077.2 995.4h0M1077.7 994.5h0M1078.2 995.1h0M1078.8 994.3h0M1079.3 994.2h0M1079.9 994.4h0M1080.4 994.2h0M1081 993.3h0M1081.5 993.3h0M1082 993h0M1082.6 992.5h0M1083.1 997.5h0M1083.7 997h0M1084.2 996.1h0M1084.8 996h0M1085.3 995.2h0M1085.8 995.6h0M1086.4 997.5h0M1086.9 1001.6h0M1087.5 1002h0M1088 1002.2h0M1088.6 1003.3h0M1089.1 1002.2h0M1089.6 1003.3h0M1090.2 1003.4h0M1090.7 1004.3h0M1091.3 1004.8h0M1091.8 1000.4h0M1092.4 1000.6h0M1092.9 1000.3h0M1093.5 1001h0M1094 1001.1h0M1094.5 1000.6h0M1095.1 1000.5h0M1095.6 1000.5h0M1096.2 1000.8h0M1096.7 1000.5h0M1097.3 1000.7h0M1097.8 999.5h0M1098.3 999.4h0M1098.9 999.1h0M1099.4 1000h0M1100 998.8h0M1100.5 999.4h0M1101.1 1005.6h0M1101.6 1005.3h0M1102.1 1004.5h0M1102.7 1004.7h0M1103.2 1004.4h0M1103.8 1004.2h0M1104.3 1003.9h0M1104.9 1002.8h0M1105.4 1003h0M1105.9 1001.9h0M1106.5 1001.9h0M1107 1001.5h0M1107.6 999.5h0M1108.1 998.1h0M1108.7 997.5h0M1109.2 995.7h0M1110.3 995.1h0M1110.8 996h0M1111.4 996.2h0M1111.9 996.4h0M1112.5 996.2h0M1113 996.3h0M1114.1 996.2h0M1114.6 996.9h0M1115.2 997.5h0M1116.3 997.7h0M1116.8 998.6h0M1117.3 997.7h0M1117.9 997.6h0M1118.4 997.5h0M1119 997.9h0M1119.5 999h0M1120.1 998.5h0M1120.6 998.2h0M1121.1 999.4h0M1121.7 998.9h0M1122.2 998.4h0M1122.8 998.7h0M1123.3 999.6h0M1124.4 998.8h0M1125 998h0M1154.8 996h0M1155.4 995.9h0M1155.9 995.2h0M1157 994.7h0M1157.5 995.2h0M1158.1 996.7h0M1158.6 998.1h0M1159.2 998.4h0M1159.7 999.5h0M1160.3 1000.8h0M1160.8 1002.4h0M1161.3 1004.1h0M1162.4 1004.8h0M1163 1005.9h0M1163.5 1006.1h0M1164.1 998.9h0M1164.6 999.8h0M1165.1 1000.8h0M1165.7 1001.2h0M1166.2 1001.2h0M1166.8 1003.2h0M1167.3 1004.6h0M1167.9 1004.8h0M1168.4 1005.5h0M1168.9 1005.7h0M1169.5 1006.4h0M1170 1005.9h0M1170.6 1007.1h0M1171.1 1007h0M1171.7 1007.4h0M1172.2 1006.6h0M1172.7 1005.1h0M1173.3 1006h0M1173.8 1004.6h0M1174.4 1004.7h0M1174.9 1002.8h0M1175.5 1004.4h0M1176 1004.5h0M1176.5 1005h0M1177.1 1006.2h0M1177.6 1005h0M1178.2 1006.2h0M1178.7 1004.8h0M1179.3 1005.1h0M1179.8 1004.8h0M1180.4 1003.4h0M1180.9 1002.7h0M1181.4 1000.9h0M1182 1001.9h0M1182.5 1001.5h0M1183.1 1000.4h0M1183.6 999.4h0M1184.2 998.6h0M1184.7 998.5h0M1185.2 997.6h0M1185.8 1006.8h0M1186.3 1005.8h0M1186.9 1005.8h0M1187.4 1004.8h0M1188 1005.3h0M1188.5 1003.8h0M1189 1002.5h0M1189.6 1002h0M1190.1 1001.2h0M1190.7 999.5h0M1191.2 999.3h0M1191.8 998.6h0M1192.3 997.1h0M1192.8 996.1h0M1193.4 996h0M1193.9 994.6h0M1194.5 993.8h0M1195 994.3h0M1195.6 993.9h0M1196.1 995.7h0M1196.6 1005.2h0M1197.2 1005.4h0M1197.7 1005h0M1198.3 1004.4h0M1198.8 1003.5h0M1199.9 1002.6h0M1200.4 1001.5h0M1201 1000.5h0M1201.5 1001.2h0M1202.1 1000.2h0M1202.6 1000.1h0M1203.2 998.5h0M1203.7 999.7h0M1204.2 999.1h0M1204.8 998.5h0M1205.3 998.5h0M1205.9 997.2h0M1206.4 996.1h0M1207 996.2h0M1208 993.3h0M1208.6 993.7h0M1209.1 994.2h0M1209.7 995.2h0M1210.2 994.6h0M1210.8 995.5h0M1211.3 995h0M1211.9 994.9h0M1212.4 995.7h0M1212.9 996.6h0M1213.5 996.3h0M1214 997.1h0M1214.6 997.7h0M1215.1 997.7h0M1215.7 997.6h0M1216.2 998.2h0M1216.7 998.1h0M1217.3 997.7h0M1217.8 998.6h0M1218.4 998.8h0M1219.5 998.8h0M1220 999.1h0M1220.5 998.7h0M1221.6 998.9h0M1222.2 999.9h0M1223.3 999h0M1223.8 999h0M1224.3 997.8h0M1224.9 999.1h0M1225.4 998.9h0M1226 999.4h0M1226.5 999.7h0M1227.1 1000h0M1227.6 1001.7h0M1228.1 1001.8h0M1228.7 1002.4h0M1229.2 1002.3h0M1229.8 1002.8h0M1230.3 1003.7h0M1230.9 1004.1h0M1231.4 1004.5h0M1231.9 1004.2h0M1232.5 1004h0M1233 1004.8h0M1233.6 1005.5h0M1234.1 1005.8h0M1234.7 1006h0M1235.2 1006.7h0M1235.7 1005.6h0M1236.3 1006.5h0M1236.8 1007h0M1237.4 1006.2h0M1237.9 1007.3h0M1238.5 1005.9h0M1239 1005.3h0M1239.6 1003.8h0M1240.1 1003.3h0M1240.6 1002.9h0M1241.2 1002.1h0M1241.7 1001.4h0M1242.3 1000.7h0M1242.8 1000.5h0M1243.4 1000.6h0M1243.9 1000.9h0M1244.4 1000.8h0M1245 1001.3h0M1245.5 1001.4h0M1246.1 1001.1h0M1246.6 1000.8h0M1247.2 1000.4h0M1247.7 1000.6h0M1248.2 1000.5h0M1248.8 999.4h0M1249.3 999.8h0M1249.9 1000.7h0M1250.4 1001.1h0M1251 1001.5h0M1251.5 1001.3h0M1252 1000.4h0M1252.6 1000.2h0M1253.7 998.7h0M1254.2 998.3h0M1254.8 996.8h0M1255.3 1008.2h0M1255.8 1006.4h0M1256.4 1005.4h0M1256.9 1004.9h0M1258 1003.7h0M1258.6 1003.9h0M1259.1 1002.9h0M1259.6 1001.2h0M1260.2 1001h0M1260.7 999.7h0M1261.3 999.8h0M1261.8 999.3h0M1262.4 997.9h0M1262.9 996.2h0M1263.4 995.4h0M1264 994.5h0M1264.5 998.4h0M1265.1 1001.4h0M1265.6 1000.8h0M1266.2 998.9h0M1266.7 999.5h0M1267.2 998.2h0M1267.8 998.4h0M1268.3 997.1h0M1268.9 997.5h0M1269.4 996.3h0M1270 994.8h0M1270.5 994.2h0M1271.1 996.2h0M1271.6 998.1h0M1272.1 1000.4h0M1272.7 1001.5h0M1273.2 1002.8h0M1273.8 1003.6h0M1274.9 1002.4h0M1275.4 1002.1h0M1275.9 1001.8h0M1277 1000.9h0M1277.6 1001.2h0M1278.1 1001.5h0M1278.7 1002.6h0M1279.2 1001.8h0M1279.7 1003.5h0M1280.3 1003.2h0M1280.8 1002h0M1281.4 1000.6h0M1281.9 999.3h0M1282.5 998.6h0M1283 999.1h0M1283.5 1000.1h0M1284.1 1000.2h0M1284.6 1001.4h0M1285.2 1003h0M1285.7 1002.4h0M1286.3 1003.7h0M1286.8 1003.8h0M1287.3 1005.4h0M1287.9 1005.7h0M1288.4 1005.9h0M1289 1006.7h0M1289.5 1006.6h0M1290.1 1006.3h0M1291.1 1008.3h0M1291.7 1006.3h0M1292.2 1006.3h0M1292.8 1005.6h0M1293.3 1005.5h0M1293.9 1005h0M1294.4 1004.6h0M1294.9 1004.2h0M1295.5 1004.2h0M1296 1003h0M1296.6 1003.6h0M1297.1 1003.8h0M1297.7 1004.1h0M1298.2 1004.6h0M1298.8 1004.8h0M1299.3 1005.6h0M1299.8 1005.2h0M1300.4 1005.3h0M1300.9 1005.5h0M1301.5 1006.1h0M1302 1004.8h0M1302.6 1005.5h0M1303.1 1005.4h0M1303.6 1005.5h0" stroke="#000" stroke-width="2.6" stroke-linecap="round" fill="none" />
<path d="M241.5 997.5h0M242.5 997.5h0" stroke="#000" stroke-width="2.6" stroke-linecap="round" fill="none" />
<path d="M359 993h0M360.5 993h0M362 993h0M363.5 993h0M365 993h0M373.6 993.4h0M389.4 992.2h0M454.4 993.4h0M462.4 992.4h0M507 994h0M508.4 993.4h0M522.4 992h0M637.4 992.8h0M638.4 992.2h0M1057.5 974.3h0M1101.6 990.4h0M1156 990.2h0M1157.2 991.2h0M1158.4 992.2h0M1159.5 993.2h0M1271.5 993.2h0M1272.6 992h0M1273.8 990.8h0" stroke="#ff0000" stroke-width="2.5" stroke-linecap="round" fill="none" />
<path d="M162 955.4l1.7 3.3h-3.4zM162.5 955.4l1.7 3.3h-3.4zM163.1 955.4l1.7 3.3h-3.4zM163.6 955.4l1.7 3.3h-3.4zM164.2 955.4l1.7 3.3h-3.4zM164.7 955.4l1.7 3.3h-3.4zM165.3 955.4l1.7 3.3h-3.4zM165.8 955.4l1.7 3.3h-3.4zM166.3 955.4l1.7 3.3h-3.4zM166.9 955.4l1.7 3.3h-3.4zM167.4 955.4l1.7 3.3h-3.4zM168 955.4l1.7 3.3h-3.4zM168.5 955.4l1.7 3.3h-3.4zM169.1 955.4l1.7 3.3h-3.4zM169.6 955.4l1.7 3.3h-3.4zM170.1 955.4l1.7 3.3h-3.4zM170.7 955.4l1.7 3.3h-3.4zM171.2 955.4l1.7 3.3h-3.4zM171.8 955.4l1.7 3.3h-3.4zM172.3 955.4l1.7 3.3h-3.4zM172.9 955.4l1.7 3.3h-3.4zM173.4 955.4l1.7 3.3h-3.4zM173.9 955.4l1.7 3.3h-3.4zM174.5 955.4l1.7 3.3h-3.4zM175 955.4l1.7 3.3h-3.4zM175.6 955.4l1.7 3.3h-3.4zM176.1 955.4l1.7 3.3h-3.4zM176.7 955.4l1.7 3.3h-3.4zM177.2 955.4l1.7 3.3h-3.4zM177.8 955.4l1.7 3.3h-3.4zM178.3 955.4l1.7 3.3h-3.4zM178.8 955.4l1.7 3.3h-3.4zM179.4 955.4l1.7 3.3h-3.4zM179.9 955.4l1.7 3.3h-3.4zM180.5 955.4l1.7 3.3h-3.4zM181 955.4l1.7 3.3h-3.4zM188.1 955.4l1.7 3.3h-3.4zM206 955.4l1.7 3.3h-3.4zM206.5 955.4l1.7 3.3h-3.4zM207.1 955.4l1.7 3.3h-3.4zM207.6 955.4l1.7 3.3h-3.4zM208.2 955.4l1.7 3.3h-3.4zM208.7 955.4l1.7 3.3h-3.4zM209.3 955.4l1.7 3.3h-3.4zM209.8 955.4l1.7 3.3h-3.4zM210.3 955.4l1.7 3.3h-3.4zM210.9 955.4l1.7 3.3h-3.4zM211.4 955.4l1.7 3.3h-3.4zM212 955.4l1.7 3.3h-3.4zM212.5 955.4l1.7 3.3h-3.4zM213.1 955.4l1.7 3.3h-3.4zM213.6 955.4l1.7 3.3h-3.4zM214.1 955.4l1.7 3.3h-3.4zM214.7 955.4l1.7 3.3h-3.4zM215.2 955.4l1.7 3.3h-3.4zM215.8 955.4l1.7 3.3h-3.4zM216.3 955.4l1.7 3.3h-3.4zM216.9 955.4l1.7 3.3h-3.4zM217.4 955.4l1.7 3.3h-3.4zM217.9 955.4l1.7 3.3h-3.4zM218.5 955.4l1.7 3.3h-3.4zM219 955.4l1.7 3.3h-3.4zM219.6 955.4l1.7 3.3h-3.4zM220.1 955.4l1.7 3.3h-3.4zM220.7 955.4l1.7 3.3h-3.4zM221.2 955.4l1.7 3.3h-3.4zM221.7 955.4l1.7 3.3h-3.4zM222.3 955.4l1.7 3.3h-3.4zM222.8 955.4l1.7 3.3h-3.4zM223.4 955.4l1.7 3.3h-3.4zM223.9 955.4l1.7 3.3h-3.4zM224.5 955.4l1.7 3.3h-3.4zM225 955.4l1.7 3.3h-3.4zM225.5 955.4l1.7 3.3h-3.4zM226.1 955.4l1.7 3.3h-3.4zM226.6 955.4l1.7 3.3h-3.4zM227.2 955.4l1.7 3.3h-3.4zM227.7 955.4l1.7 3.3h-3.4zM228.3 955.4l1.7 3.3h-3.4zM228.8 955.4l1.7 3.3h-3.4zM229.3 955.4l1.7 3.3h-3.4zM229.9 955.4l1.7 3.3h-3.4zM230.4 955.4l1.7 3.3h-3.4zM231 955.4l1.7 3.3h-3.4zM231.5 955.4l1.7 3.3h-3.4zM232.1 955.4l1.7 3.3h-3.4zM232.6 955.4l1.7 3.3h-3.4zM233.1 955.4l1.7 3.3h-3.4zM233.7 955.4l1.7 3.3h-3.4zM234.2 955.4l1.7 3.3h-3.4zM234.8 955.4l1.7 3.3h-3.4zM235.3 955.4l1.7 3.3h-3.4zM235.9 955.4l1.7 3.3h-3.4zM236.4 955.4l1.7 3.3h-3.4zM237 955.4l1.7 3.3h-3.4zM237.5 955.4l1.7 3.3h-3.4zM238 955.4l1.7 3.3h-3.4zM238.6 955.4l1.7 3.3h-3.4zM239.1 955.4l1.7 3.3h-3.4zM239.7 955.4l1.7 3.3h-3.4zM240.2 955.4l1.7 3.3h-3.4zM240.8 955.4l1.7 3.3h-3.4zM241.3 955.4l1.7 3.3h-3.4zM251.6 955.4l1.7 3.3h-3.4zM252.2 955.4l1.7 3.3h-3.4zM252.7 955.4l1.7 3.3h-3.4zM253.2 955.4l1.7 3.3h-3.4zM253.8 955.4l1.7 3.3h-3.4zM254.3 955.4l1.7 3.3h-3.4zM254.9 955.4l1.7 3.3h-3.4zM255.4 955.4l1.7 3.3h-3.4zM256 955.4l1.7 3.3h-3.4zM256.5 955.4l1.7 3.3h-3.4zM257 955.4l1.7 3.3h-3.4zM257.6 955.4l1.7 3.3h-3.4zM258.1 955.4l1.7 3.3h-3.4zM258.7 955.4l1.7 3.3h-3.4zM259.2 955.4l1.7 3.3h-3.4zM259.8 955.4l1.7 3.3h-3.4zM260.3 955.4l1.7 3.3h-3.4zM260.8 955.4l1.7 3.3h-3.4zM261.4 955.4l1.7 3.3h-3.4zM261.9 955.4l1.7 3.3h-3.4zM262.5 955.4l1.7 3.3h-3.4zM263 955.4l1.7 3.3h-3.4zM263.6 955.4l1.7 3.3h-3.4zM264.1 955.4l1.7 3.3h-3.4zM264.6 955.4l1.7 3.3h-3.4zM265.2 955.4l1.7 3.3h-3.4zM265.7 955.4l1.7 3.3h-3.4zM266.3 955.4l1.7 3.3h-3.4zM266.8 955.4l1.7 3.3h-3.4zM267.4 955.4l1.7 3.3h-3.4zM267.9 955.4l1.7 3.3h-3.4zM268.5 955.4l1.7 3.3h-3.4zM269 955.4l1.7 3.3h-3.4zM269.5 955.4l1.7 3.3h-3.4zM270.1 955.4l1.7 3.3h-3.4zM270.6 955.4l1.7 3.3h-3.4zM271.2 955.4l1.7 3.3h-3.4zM271.7 955.4l1.7 3.3h-3.4zM272.3 955.4l1.7 3.3h-3.4zM272.8 955.4l1.7 3.3h-3.4zM273.3 955.4l1.7 3.3h-3.4zM273.9 955.4l1.7 3.3h-3.4zM274.4 955.4l1.7 3.3h-3.4zM275 955.4l1.7 3.3h-3.4zM275.5 955.4l1.7 3.3h-3.4zM276.1 955.4l1.7 3.3h-3.4zM276.6 955.4l1.7 3.3h-3.4zM277.1 955.4l1.7 3.3h-3.4zM277.7 955.4l1.7 3.3h-3.4zM278.2 955.4l1.7 3.3h-3.4zM278.8 955.4l1.7 3.3h-3.4zM279.3 955.4l1.7 3.3h-3.4zM279.9 955.4l1.7 3.3h-3.4zM280.4 955.4l1.7 3.3h-3.4zM280.9 955.4l1.7 3.3h-3.4zM281.5 955.4l1.7 3.3h-3.4zM282 955.4l1.7 3.3h-3.4zM282.6 955.4l1.7 3.3h-3.4zM289.1 955.4l1.7 3.3h-3.4zM319 955.4l1.7 3.3h-3.4zM332 955.4l1.7 3.3h-3.4zM333.6 955.4l1.7 3.3h-3.4zM464 955.4l1.7 3.3h-3.4zM467.2 955.4l1.7 3.3h-3.4zM626.9 955.4l1.7 3.3h-3.4zM628.5 955.4l1.7 3.3h-3.4zM755.1 955.4l1.7 3.3h-3.4zM755.6 955.4l1.7 3.3h-3.4zM756.2 955.4l1.7 3.3h-3.4zM756.7 955.4l1.7 3.3h-3.4zM757.3 955.4l1.7 3.3h-3.4zM757.8 955.4l1.7 3.3h-3.4zM758.3 955.4l1.7 3.3h-3.4zM758.9 955.4l1.7 3.3h-3.4zM759.4 955.4l1.7 3.3h-3.4zM760 955.4l1.7 3.3h-3.4zM760.5 955.4l1.7 3.3h-3.4zM761.1 955.4l1.7 3.3h-3.4zM761.6 955.4l1.7 3.3h-3.4zM762.1 955.4l1.7 3.3h-3.4zM762.7 955.4l1.7 3.3h-3.4zM763.2 955.4l1.7 3.3h-3.4zM763.8 955.4l1.7 3.3h-3.4zM764.3 955.4l1.7 3.3h-3.4zM764.9 955.4l1.7 3.3h-3.4zM765.4 955.4l1.7 3.3h-3.4zM765.9 955.4l1.7 3.3h-3.4zM766.5 955.4l1.7 3.3h-3.4zM767 955.4l1.7 3.3h-3.4zM767.6 955.4l1.7 3.3h-3.4zM768.1 955.4l1.7 3.3h-3.4zM768.7 955.4l1.7 3.3h-3.4zM769.2 955.4l1.7 3.3h-3.4zM769.8 955.4l1.7 3.3h-3.4zM770.3 955.4l1.7 3.3h-3.4zM770.8 955.4l1.7 3.3h-3.4zM771.4 955.4l1.7 3.3h-3.4zM771.9 955.4l1.7 3.3h-3.4zM772.5 955.4l1.7 3.3h-3.4zM773 955.4l1.7 3.3h-3.4zM773.6 955.4l1.7 3.3h-3.4zM774.1 955.4l1.7 3.3h-3.4zM774.6 955.4l1.7 3.3h-3.4zM775.2 955.4l1.7 3.3h-3.4zM775.7 955.4l1.7 3.3h-3.4zM776.3 955.4l1.7 3.3h-3.4zM776.8 955.4l1.7 3.3h-3.4zM777.4 955.4l1.7 3.3h-3.4zM777.9 955.4l1.7 3.3h-3.4zM778.4 955.4l1.7 3.3h-3.4zM779 955.4l1.7 3.3h-3.4zM779.5 955.4l1.7 3.3h-3.4zM780.1 955.4l1.7 3.3h-3.4zM780.6 955.4l1.7 3.3h-3.4zM781.2 955.4l1.7 3.3h-3.4zM781.7 955.4l1.7 3.3h-3.4zM782.2 955.4l1.7 3.3h-3.4zM782.8 955.4l1.7 3.3h-3.4zM783.3 955.4l1.7 3.3h-3.4zM783.9 955.4l1.7 3.3h-3.4zM784.4 955.4l1.7 3.3h-3.4zM785 955.4l1.7 3.3h-3.4zM785.5 955.4l1.7 3.3h-3.4zM786 955.4l1.7 3.3h-3.4zM786.6 955.4l1.7 3.3h-3.4zM787.1 955.4l1.7 3.3h-3.4zM787.7 955.4l1.7 3.3h-3.4zM788.2 955.4l1.7 3.3h-3.4zM788.8 955.4l1.7 3.3h-3.4zM789.3 955.4l1.7 3.3h-3.4zM789.8 955.4l1.7 3.3h-3.4zM790.4 955.4l1.7 3.3h-3.4zM790.9 955.4l1.7 3.3h-3.4zM791.5 955.4l1.7 3.3h-3.4zM792 955.4l1.7 3.3h-3.4zM792.6 955.4l1.7 3.3h-3.4zM793.1 955.4l1.7 3.3h-3.4zM793.6 955.4l1.7 3.3h-3.4zM794.2 955.4l1.7 3.3h-3.4zM794.7 955.4l1.7 3.3h-3.4zM795.3 955.4l1.7 3.3h-3.4zM795.8 955.4l1.7 3.3h-3.4zM796.4 955.4l1.7 3.3h-3.4zM796.9 955.4l1.7 3.3h-3.4zM797.5 955.4l1.7 3.3h-3.4zM798 955.4l1.7 3.3h-3.4zM798.5 955.4l1.7 3.3h-3.4zM799.1 955.4l1.7 3.3h-3.4zM799.6 955.4l1.7 3.3h-3.4zM800.2 955.4l1.7 3.3h-3.4zM800.7 955.4l1.7 3.3h-3.4zM801.3 955.4l1.7 3.3h-3.4zM801.8 955.4l1.7 3.3h-3.4zM802.3 955.4l1.7 3.3h-3.4zM802.9 955.4l1.7 3.3h-3.4zM803.4 955.4l1.7 3.3h-3.4zM804 955.4l1.7 3.3h-3.4zM804.5 955.4l1.7 3.3h-3.4zM805.1 955.4l1.7 3.3h-3.4zM805.6 955.4l1.7 3.3h-3.4zM806.1 955.4l1.7 3.3h-3.4zM806.7 955.4l1.7 3.3h-3.4zM807.2 955.4l1.7 3.3h-3.4zM807.8 955.4l1.7 3.3h-3.4zM808.3 955.4l1.7 3.3h-3.4zM808.9 955.4l1.7 3.3h-3.4zM809.4 955.4l1.7 3.3h-3.4zM809.9 955.4l1.7 3.3h-3.4zM810.5 955.4l1.7 3.3h-3.4zM811 955.4l1.7 3.3h-3.4zM811.6 955.4l1.7 3.3h-3.4zM812.1 955.4l1.7 3.3h-3.4zM812.7 955.4l1.7 3.3h-3.4zM813.2 955.4l1.7 3.3h-3.4zM813.7 955.4l1.7 3.3h-3.4zM814.3 955.4l1.7 3.3h-3.4zM814.8 955.4l1.7 3.3h-3.4zM815.4 955.4l1.7 3.3h-3.4zM815.9 955.4l1.7 3.3h-3.4zM816.5 955.4l1.7 3.3h-3.4zM817 955.4l1.7 3.3h-3.4zM817.5 955.4l1.7 3.3h-3.4zM818.1 955.4l1.7 3.3h-3.4zM818.6 955.4l1.7 3.3h-3.4zM819.2 955.4l1.7 3.3h-3.4zM819.7 955.4l1.7 3.3h-3.4zM820.3 955.4l1.7 3.3h-3.4zM820.8 955.4l1.7 3.3h-3.4zM821.3 955.4l1.7 3.3h-3.4zM821.9 955.4l1.7 3.3h-3.4zM822.4 955.4l1.7 3.3h-3.4zM823 955.4l1.7 3.3h-3.4zM823.5 955.4l1.7 3.3h-3.4zM824.1 955.4l1.7 3.3h-3.4zM824.6 955.4l1.7 3.3h-3.4zM825.1 955.4l1.7 3.3h-3.4zM825.7 955.4l1.7 3.3h-3.4zM826.2 955.4l1.7 3.3h-3.4zM826.8 955.4l1.7 3.3h-3.4zM827.3 955.4l1.7 3.3h-3.4zM827.9 955.4l1.7 3.3h-3.4zM828.4 955.4l1.7 3.3h-3.4zM829 955.4l1.7 3.3h-3.4zM829.5 955.4l1.7 3.3h-3.4zM830 955.4l1.7 3.3h-3.4zM830.6 955.4l1.7 3.3h-3.4zM831.1 955.4l1.7 3.3h-3.4zM831.7 955.4l1.7 3.3h-3.4zM832.2 955.4l1.7 3.3h-3.4zM832.8 955.4l1.7 3.3h-3.4zM833.3 955.4l1.7 3.3h-3.4zM833.8 955.4l1.7 3.3h-3.4zM834.4 955.4l1.7 3.3h-3.4zM834.9 955.4l1.7 3.3h-3.4zM835.5 955.4l1.7 3.3h-3.4zM836 955.4l1.7 3.3h-3.4zM836.6 955.4l1.7 3.3h-3.4zM837.1 955.4l1.7 3.3h-3.4zM837.6 955.4l1.7 3.3h-3.4zM838.2 955.4l1.7 3.3h-3.4zM838.7 955.4l1.7 3.3h-3.4zM839.3 955.4l1.7 3.3h-3.4zM839.8 955.4l1.7 3.3h-3.4zM840.4 955.4l1.7 3.3h-3.4zM840.9 955.4l1.7 3.3h-3.4zM841.4 955.4l1.7 3.3h-3.4zM842 955.4l1.7 3.3h-3.4zM842.5 955.4l1.7 3.3h-3.4zM843.1 955.4l1.7 3.3h-3.4zM843.6 955.4l1.7 3.3h-3.4zM844.2 955.4l1.7 3.3h-3.4zM844.7 955.4l1.7 3.3h-3.4zM845.2 955.4l1.7 3.3h-3.4zM845.8 955.4l1.7 3.3h-3.4zM846.3 955.4l1.7 3.3h-3.4zM846.9 955.4l1.7 3.3h-3.4zM847.4 955.4l1.7 3.3h-3.4zM848 955.4l1.7 3.3h-3.4zM848.5 955.4l1.7 3.3h-3.4zM849 955.4l1.7 3.3h-3.4zM849.6 955.4l1.7 3.3h-3.4zM850.1 955.4l1.7 3.3h-3.4zM850.7 955.4l1.7 3.3h-3.4zM851.2 955.4l1.7 3.3h-3.4zM851.8 955.4l1.7 3.3h-3.4zM852.3 955.4l1.7 3.3h-3.4zM852.8 955.4l1.7 3.3h-3.4zM853.4 955.4l1.7 3.3h-3.4zM853.9 955.4l1.7 3.3h-3.4zM854.5 955.4l1.7 3.3h-3.4zM855 955.4l1.7 3.3h-3.4zM855.6 955.4l1.7 3.3h-3.4zM856.1 955.4l1.7 3.3h-3.4zM856.7 955.4l1.7 3.3h-3.4zM857.2 955.4l1.7 3.3h-3.4zM857.7 955.4l1.7 3.3h-3.4zM858.3 955.4l1.7 3.3h-3.4zM858.8 955.4l1.7 3.3h-3.4zM859.4 955.4l1.7 3.3h-3.4zM859.9 955.4l1.7 3.3h-3.4zM860.5 955.4l1.7 3.3h-3.4zM861 955.4l1.7 3.3h-3.4zM861.5 955.4l1.7 3.3h-3.4zM862.1 955.4l1.7 3.3h-3.4zM862.6 955.4l1.7 3.3h-3.4zM863.2 955.4l1.7 3.3h-3.4zM863.7 955.4l1.7 3.3h-3.4zM864.3 955.4l1.7 3.3h-3.4zM864.8 955.4l1.7 3.3h-3.4zM865.3 955.4l1.7 3.3h-3.4zM865.9 955.4l1.7 3.3h-3.4zM866.4 955.4l1.7 3.3h-3.4zM867 955.4l1.7 3.3h-3.4zM867.5 955.4l1.7 3.3h-3.4zM868.1 955.4l1.7 3.3h-3.4zM868.6 955.4l1.7 3.3h-3.4zM869.1 955.4l1.7 3.3h-3.4zM869.7 955.4l1.7 3.3h-3.4zM870.2 955.4l1.7 3.3h-3.4zM870.8 955.4l1.7 3.3h-3.4zM871.3 955.4l1.7 3.3h-3.4zM871.9 955.4l1.7 3.3h-3.4zM872.4 955.4l1.7 3.3h-3.4zM872.9 955.4l1.7 3.3h-3.4zM873.5 955.4l1.7 3.3h-3.4zM874 955.4l1.7 3.3h-3.4zM874.6 955.4l1.7 3.3h-3.4zM875.1 955.4l1.7 3.3h-3.4zM875.7 955.4l1.7 3.3h-3.4zM876.2 955.4l1.7 3.3h-3.4zM876.7 955.4l1.7 3.3h-3.4zM877.3 955.4l1.7 3.3h-3.4zM877.8 955.4l1.7 3.3h-3.4zM878.4 955.4l1.7 3.3h-3.4zM878.9 955.4l1.7 3.3h-3.4zM879.5 955.4l1.7 3.3h-3.4zM880 955.4l1.7 3.3h-3.4zM880.5 955.4l1.7 3.3h-3.4zM881.1 955.4l1.7 3.3h-3.4zM881.6 955.4l1.7 3.3h-3.4zM882.2 955.4l1.7 3.3h-3.4zM882.7 955.4l1.7 3.3h-3.4zM883.3 955.4l1.7 3.3h-3.4zM883.8 955.4l1.7 3.3h-3.4zM884.3 955.4l1.7 3.3h-3.4zM884.9 955.4l1.7 3.3h-3.4zM885.4 955.4l1.7 3.3h-3.4zM886 955.4l1.7 3.3h-3.4zM886.5 955.4l1.7 3.3h-3.4zM887.1 955.4l1.7 3.3h-3.4zM887.6 955.4l1.7 3.3h-3.4zM888.2 955.4l1.7 3.3h-3.4zM888.7 955.4l1.7 3.3h-3.4zM889.2 955.4l1.7 3.3h-3.4zM889.8 955.4l1.7 3.3h-3.4zM890.3 955.4l1.7 3.3h-3.4zM890.9 955.4l1.7 3.3h-3.4zM891.4 955.4l1.7 3.3h-3.4zM892 955.4l1.7 3.3h-3.4zM892.5 955.4l1.7 3.3h-3.4zM893 955.4l1.7 3.3h-3.4zM893.6 955.4l1.7 3.3h-3.4zM894.1 955.4l1.7 3.3h-3.4zM894.7 955.4l1.7 3.3h-3.4zM895.2 955.4l1.7 3.3h-3.4zM895.8 955.4l1.7 3.3h-3.4zM896.3 955.4l1.7 3.3h-3.4zM896.8 955.4l1.7 3.3h-3.4zM897.4 955.4l1.7 3.3h-3.4zM897.9 955.4l1.7 3.3h-3.4zM898.5 955.4l1.7 3.3h-3.4zM899 955.4l1.7 3.3h-3.4zM899.6 955.4l1.7 3.3h-3.4zM900.1 955.4l1.7 3.3h-3.4zM900.6 955.4l1.7 3.3h-3.4zM901.2 955.4l1.7 3.3h-3.4zM901.7 955.4l1.7 3.3h-3.4zM902.3 955.4l1.7 3.3h-3.4zM902.8 955.4l1.7 3.3h-3.4zM903.4 955.4l1.7 3.3h-3.4zM903.9 955.4l1.7 3.3h-3.4zM904.4 955.4l1.7 3.3h-3.4zM905 955.4l1.7 3.3h-3.4zM905.5 955.4l1.7 3.3h-3.4zM906.1 955.4l1.7 3.3h-3.4zM906.6 955.4l1.7 3.3h-3.4zM907.2 955.4l1.7 3.3h-3.4zM907.7 955.4l1.7 3.3h-3.4zM908.2 955.4l1.7 3.3h-3.4zM908.8 955.4l1.7 3.3h-3.4zM909.3 955.4l1.7 3.3h-3.4zM909.9 955.4l1.7 3.3h-3.4zM910.4 955.4l1.7 3.3h-3.4zM911 955.4l1.7 3.3h-3.4zM911.5 955.4l1.7 3.3h-3.4zM912 955.4l1.7 3.3h-3.4zM912.6 955.4l1.7 3.3h-3.4zM913.1 955.4l1.7 3.3h-3.4zM913.7 955.4l1.7 3.3h-3.4zM914.2 955.4l1.7 3.3h-3.4zM914.8 955.4l1.7 3.3h-3.4zM915.3 955.4l1.7 3.3h-3.4zM915.9 955.4l1.7 3.3h-3.4zM916.4 955.4l1.7 3.3h-3.4zM916.9 955.4l1.7 3.3h-3.4zM917.5 955.4l1.7 3.3h-3.4zM918 955.4l1.7 3.3h-3.4zM918.6 955.4l1.7 3.3h-3.4zM919.1 955.4l1.7 3.3h-3.4zM919.7 955.4l1.7 3.3h-3.4zM920.2 955.4l1.7 3.3h-3.4zM920.7 955.4l1.7 3.3h-3.4zM921.3 955.4l1.7 3.3h-3.4zM921.8 955.4l1.7 3.3h-3.4zM922.4 955.4l1.7 3.3h-3.4zM922.9 955.4l1.7 3.3h-3.4zM923.5 955.4l1.7 3.3h-3.4zM924 955.4l1.7 3.3h-3.4zM924.5 955.4l1.7 3.3h-3.4zM925.1 955.4l1.7 3.3h-3.4zM925.6 955.4l1.7 3.3h-3.4zM926.2 955.4l1.7 3.3h-3.4zM926.7 955.4l1.7 3.3h-3.4zM927.3 955.4l1.7 3.3h-3.4zM927.8 955.4l1.7 3.3h-3.4zM928.3 955.4l1.7 3.3h-3.4zM928.9 955.4l1.7 3.3h-3.4zM929.4 955.4l1.7 3.3h-3.4zM930 955.4l1.7 3.3h-3.4zM930.5 955.4l1.7 3.3h-3.4zM931.1 955.4l1.7 3.3h-3.4zM931.6 955.4l1.7 3.3h-3.4zM932.1 955.4l1.7 3.3h-3.4zM932.7 955.4l1.7 3.3h-3.4zM933.2 955.4l1.7 3.3h-3.4zM933.8 955.4l1.7 3.3h-3.4zM934.3 955.4l1.7 3.3h-3.4zM934.9 955.4l1.7 3.3h-3.4zM935.4 955.4l1.7 3.3h-3.4zM935.9 955.4l1.7 3.3h-3.4zM936.5 955.4l1.7 3.3h-3.4zM937 955.4l1.7 3.3h-3.4zM937.6 955.4l1.7 3.3h-3.4zM938.1 955.4l1.7 3.3h-3.4zM938.7 955.4l1.7 3.3h-3.4zM939.2 955.4l1.7 3.3h-3.4zM939.7 955.4l1.7 3.3h-3.4zM940.3 955.4l1.7 3.3h-3.4zM940.8 955.4l1.7 3.3h-3.4zM941.4 955.4l1.7 3.3h-3.4zM941.9 955.4l1.7 3.3h-3.4zM942.5 955.4l1.7 3.3h-3.4zM943 955.4l1.7 3.3h-3.4zM943.5 955.4l1.7 3.3h-3.4zM944.1 955.4l1.7 3.3h-3.4zM944.6 955.4l1.7 3.3h-3.4zM945.2 955.4l1.7 3.3h-3.4zM945.7 955.4l1.7 3.3h-3.4zM946.3 955.4l1.7 3.3h-3.4zM946.8 955.4l1.7 3.3h-3.4zM947.4 955.4l1.7 3.3h-3.4zM947.9 955.4l1.7 3.3h-3.4zM948.4 955.4l1.7 3.3h-3.4zM949 955.4l1.7 3.3h-3.4zM949.5 955.4l1.7 3.3h-3.4zM950.1 955.4l1.7 3.3h-3.4zM950.6 955.4l1.7 3.3h-3.4zM951.2 955.4l1.7 3.3h-3.4zM951.7 955.4l1.7 3.3h-3.4zM952.2 955.4l1.7 3.3h-3.4zM952.8 955.4l1.7 3.3h-3.4zM953.3 955.4l1.7 3.3h-3.4zM953.9 955.4l1.7 3.3h-3.4zM954.4 955.4l1.7 3.3h-3.4zM955 955.4l1.7 3.3h-3.4zM955.5 955.4l1.7 3.3h-3.4zM956 955.4l1.7 3.3h-3.4zM956.6 955.4l1.7 3.3h-3.4zM957.1 955.4l1.7 3.3h-3.4zM957.7 955.4l1.7 3.3h-3.4zM958.2 955.4l1.7 3.3h-3.4zM958.8 955.4l1.7 3.3h-3.4zM959.3 955.4l1.7 3.3h-3.4zM959.8 955.4l1.7 3.3h-3.4zM960.4 955.4l1.7 3.3h-3.4zM960.9 955.4l1.7 3.3h-3.4zM961.5 955.4l1.7 3.3h-3.4zM962 955.4l1.7 3.3h-3.4zM962.6 955.4l1.7 3.3h-3.4zM963.1 955.4l1.7 3.3h-3.4zM963.6 955.4l1.7 3.3h-3.4zM964.2 955.4l1.7 3.3h-3.4zM964.7 955.4l1.7 3.3h-3.4zM965.3 955.4l1.7 3.3h-3.4zM965.8 955.4l1.7 3.3h-3.4zM966.4 955.4l1.7 3.3h-3.4zM966.9 955.4l1.7 3.3h-3.4zM967.4 955.4l1.7 3.3h-3.4zM968 955.4l1.7 3.3h-3.4zM968.5 955.4l1.7 3.3h-3.4zM969.1 955.4l1.7 3.3h-3.4zM969.6 955.4l1.7 3.3h-3.4zM970.2 955.4l1.7 3.3h-3.4zM970.7 955.4l1.7 3.3h-3.4zM971.2 955.4l1.7 3.3h-3.4zM971.8 955.4l1.7 3.3h-3.4zM972.3 955.4l1.7 3.3h-3.4zM972.9 955.4l1.7 3.3h-3.4zM1004.4 955.4l1.7 3.3h-3.4zM1006 955.4l1.7 3.3h-3.4zM1007.6 955.4l1.7 3.3h-3.4zM1009.8 955.4l1.7 3.3h-3.4zM1016.9 955.4l1.7 3.3h-3.4zM1018.5 955.4l1.7 3.3h-3.4zM1110.8 955.4l1.7 3.3h-3.4zM1112.5 955.4l1.7 3.3h-3.4zM1114.1 955.4l1.7 3.3h-3.4zM1125 955.4l1.7 3.3h-3.4zM1125.5 955.4l1.7 3.3h-3.4zM1126 955.4l1.7 3.3h-3.4zM1126.6 955.4l1.7 3.3h-3.4zM1127.1 955.4l1.7 3.3h-3.4zM1127.7 955.4l1.7 3.3h-3.4zM1128.2 955.4l1.7 3.3h-3.4zM1128.8 955.4l1.7 3.3h-3.4zM1129.3 955.4l1.7 3.3h-3.4zM1129.8 955.4l1.7 3.3h-3.4zM1130.4 955.4l1.7 3.3h-3.4zM1130.9 955.4l1.7 3.3h-3.4zM1131.5 955.4l1.7 3.3h-3.4zM1132 955.4l1.7 3.3h-3.4zM1132.6 955.4l1.7 3.3h-3.4zM1133.1 955.4l1.7 3.3h-3.4zM1133.6 955.4l1.7 3.3h-3.4zM1134.2 955.4l1.7 3.3h-3.4zM1134.7 955.4l1.7 3.3h-3.4zM1135.3 955.4l1.7 3.3h-3.4zM1135.8 955.4l1.7 3.3h-3.4zM1136.4 955.4l1.7 3.3h-3.4zM1136.9 955.4l1.7 3.3h-3.4zM1137.4 955.4l1.7 3.3h-3.4zM1138 955.4l1.7 3.3h-3.4zM1138.5 955.4l1.7 3.3h-3.4zM1139.1 955.4l1.7 3.3h-3.4zM1139.6 955.4l1.7 3.3h-3.4zM1140.2 955.4l1.7 3.3h-3.4zM1140.7 955.4l1.7 3.3h-3.4zM1141.2 955.4l1.7 3.3h-3.4zM1141.8 955.4l1.7 3.3h-3.4zM1142.3 955.4l1.7 3.3h-3.4zM1142.9 955.4l1.7 3.3h-3.4zM1143.4 955.4l1.7 3.3h-3.4zM1144 955.4l1.7 3.3h-3.4zM1144.5 955.4l1.7 3.3h-3.4zM1145 955.4l1.7 3.3h-3.4zM1145.6 955.4l1.7 3.3h-3.4zM1146.1 955.4l1.7 3.3h-3.4zM1146.7 955.4l1.7 3.3h-3.4zM1147.2 955.4l1.7 3.3h-3.4zM1147.8 955.4l1.7 3.3h-3.4zM1148.3 955.4l1.7 3.3h-3.4zM1148.8 955.4l1.7 3.3h-3.4zM1149.4 955.4l1.7 3.3h-3.4zM1149.9 955.4l1.7 3.3h-3.4zM1150.5 955.4l1.7 3.3h-3.4zM1151 955.4l1.7 3.3h-3.4zM1151.6 955.4l1.7 3.3h-3.4zM1152.1 955.4l1.7 3.3h-3.4zM1152.7 955.4l1.7 3.3h-3.4zM1153.2 955.4l1.7 3.3h-3.4zM1153.7 955.4l1.7 3.3h-3.4z" fill="#ff0000" stroke="#ff0000" stroke-width="0.8" stroke-linejoin="round"/>
<line x1="105.5" x2="1485.5" y1="763.5" y2="763.5" stroke="#b0b0b0" stroke-width="1.111" stroke-dasharray="1.111 1.833"/>
<line x1="105.5" x2="1485.5" y1="802.5" y2="802.5" stroke="#b0b0b0" stroke-width="1.111" stroke-dasharray="1.111 1.833"/>
<line x1="105.5" x2="1485.5" y1="840.5" y2="840.5" stroke="#b0b0b0" stroke-width="1.111" stroke-dasharray="1.111 1.833"/>
<line x1="105.5" x2="1485.5" y1="878.5" y2="878.5" stroke="#b0b0b0" stroke-width="1.111" stroke-dasharray="1.111 1.833"/>
<line x1="105.5" x2="1485.5" y1="916.5" y2="916.5" stroke="#b0b0b0" stroke-width="1.111" stroke-dasharray="1.111 1.833"/>
<line x1="105.5" x2="1485.5" y1="1009.5" y2="1009.5" stroke="#b0b0b0" stroke-width="1.111" stroke-dasharray="1.111 1.833"/>
<line x1="105.5" x2="1485.5" y1="983.5" y2="983.5" stroke="#b0b0b0" stroke-width="1.111" stroke-dasharray="1.111 1.833"/>
<line x1="105.5" x2="1485.5" y1="957.5" y2="957.5" stroke="#b0b0b0" stroke-width="1.111" stroke-dasharray="1.111 1.833"/>
<line x1="162" x2="162" y1="1011" y2="954.5" stroke="#800080" stroke-width="2.083" stroke-dasharray="2.083 3.4375"/>
<line x1="162" x2="162" y1="954" y2="725.5" stroke="#800080" stroke-width="2.083" stroke-dasharray="2.083 3.4375"/>
<line x1="206" x2="206" y1="1011" y2="954.5" stroke="#800080" stroke-width="2.083" stroke-dasharray="2.083 3.4375"/>
<line x1="206" x2="206" y1="954" y2="725.5" stroke="#800080" stroke-width="2.083" stroke-dasharray="2.083 3.4375"/>
<line x1="259" x2="259" y1="1011" y2="954.5" stroke="#800080" stroke-width="2.083" stroke-dasharray="2.083 3.4375"/>
<line x1="259" x2="259" y1="954" y2="725.5" stroke="#800080" stroke-width="2.083" stroke-dasharray="2.083 3.4375"/>
<line x1="1125" x2="1125" y1="1011" y2="954.5" stroke="#800080" stroke-width="2.083" stroke-dasharray="2.083 3.4375"/>
<line x1="1125" x2="1125" y1="954" y2="725.5" stroke="#800080" stroke-width="2.083" stroke-dasharray="2.083 3.4375"/>
<line x1="1303" x2="1303" y1="1011" y2="954.5" stroke="#800080" stroke-width="2.083" stroke-dasharray="2.083 3.4375"/>
<line x1="1303" x2="1303" y1="954" y2="725.5" stroke="#800080" stroke-width="2.083" stroke-dasharray="2.083 3.4375"/>
<rect x="105.5" y="725.5" width="1380" height="286" fill="none" stroke="#000" stroke-width="1.111"/>
<line x1="105.5" x2="1485.5" y1="954.5" y2="954.5" stroke="#000" stroke-width="1.111" />
<line x1="162.5" x2="162.5" y1="1011.5" y2="1016.9" stroke="#000" stroke-width="1.111"/>
<text x="163.2" y="1031.9" font-size="13.889" text-anchor="middle" >0</text>
<line x1="434.5" x2="434.5" y1="1011.5" y2="1016.9" stroke="#000" stroke-width="1.111"/>
<text x="433" y="1031.9" font-size="13.889" text-anchor="middle" >500</text>
<line x1="705.5" x2="705.5" y1="1011.5" y2="1016.9" stroke="#000" stroke-width="1.111"/>
<text x="705.2" y="1031.9" font-size="13.889" text-anchor="middle" >1000</text>
<line x1="977.5" x2="977.5" y1="1011.5" y2="1016.9" stroke="#000" stroke-width="1.111"/>
<text x="977.3" y="1031.9" font-size="13.889" text-anchor="middle" >1500</text>
<line x1="1248.5" x2="1248.5" y1="1011.5" y2="1016.9" stroke="#000" stroke-width="1.111"/>
<text x="1247.9" y="1031.9" font-size="13.889" text-anchor="middle" >2000</text>
<line x1="100.1" x2="105.5" y1="763.5" y2="763.5" stroke="#000" stroke-width="1.111"/>
<text x="95.3" y="768.8" font-size="13.889" text-anchor="end" >not Kalman</text>
<line x1="100.1" x2="105.5" y1="802.5" y2="802.5" stroke="#000" stroke-width="1.111"/>
<text x="95.3" y="807" font-size="13.889" text-anchor="end" >not track</text>
<line x1="100.1" x2="105.5" y1="840.5" y2="840.5" stroke="#000" stroke-width="1.111"/>
<text x="95.3" y="845.2" font-size="13.889" text-anchor="end" >Ion. rad.</text>
<line x1="100.1" x2="105.5" y1="878.5" y2="878.5" stroke="#000" stroke-width="1.111"/>
<text x="95.3" y="883.4" font-size="13.889" text-anchor="end" >dr &gt; 5</text>
<line x1="100.1" x2="105.5" y1="916.5" y2="916.5" stroke="#000" stroke-width="1.111"/>
<text x="95.3" y="921.5" font-size="13.889" text-anchor="end" >OBS not OK</text>
<line x1="100.1" x2="105.5" y1="1009.5" y2="1009.5" stroke="#000" stroke-width="1.111"/>
<text x="97" y="1014.3" font-size="13.889" text-anchor="end" >0</text>
<line x1="100.1" x2="105.5" y1="983.5" y2="983.5" stroke="#000" stroke-width="1.111"/>
<text x="96.2" y="988.3" font-size="13.889" text-anchor="end" >5</text>
<line x1="100.1" x2="105.5" y1="957.5" y2="957.5" stroke="#000" stroke-width="1.111"/>
<text x="95" y="962.4" font-size="13.889" text-anchor="end" >10</text>
<line x1="102.2" x2="105.5" y1="996.5" y2="996.5" stroke="#000" stroke-width="0.9"/>
<line x1="102.2" x2="105.5" y1="970.5" y2="970.5" stroke="#000" stroke-width="0.9"/>
<text transform="translate(69,984.3) rotate(-90)" font-size="13.889" text-anchor="middle">dr</text>
</g>
</svg></body></html>
